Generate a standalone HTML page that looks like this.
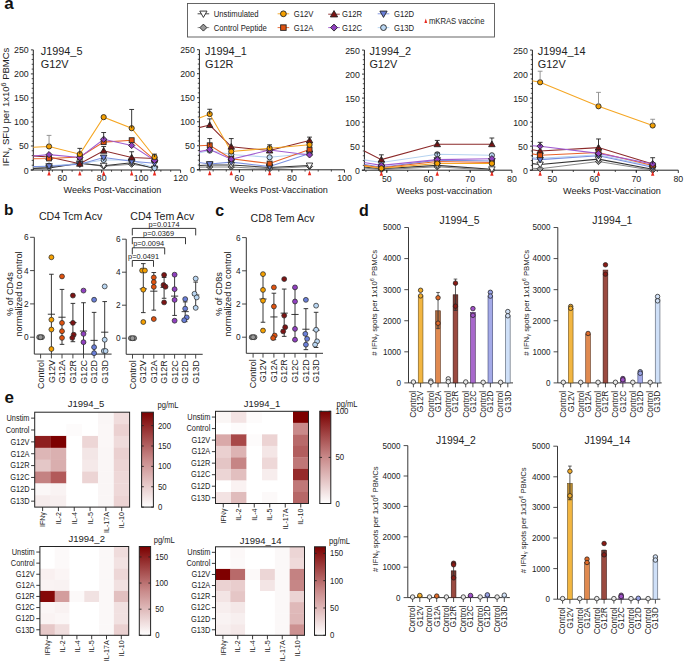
<!DOCTYPE html>
<html><head><meta charset="utf-8"><style>
html,body{margin:0;padding:0;background:#fff;width:685px;height:661px;overflow:hidden;}
body{position:relative;font-family:"Liberation Sans", sans-serif;}
svg text{font-family:"Liberation Sans", sans-serif;}
</style></head><body>
<svg width="685" height="661" viewBox="0 0 685 661" style="position:absolute;left:0;top:0;font-family:&quot;Liberation Sans&quot;, sans-serif">
<rect width="685" height="661" fill="#fff"/>
<text x="4.30" y="9.20" font-size="17" text-anchor="start" font-weight="bold" fill="#111">a</text>
<text x="4.00" y="215.40" font-size="15.5" text-anchor="start" font-weight="bold" fill="#111">b</text>
<text x="215.30" y="215.60" font-size="16" text-anchor="start" font-weight="bold" fill="#111">c</text>
<text x="359.00" y="216.00" font-size="16" text-anchor="start" font-weight="bold" fill="#111">d</text>
<text x="4.60" y="403.20" font-size="17" text-anchor="start" font-weight="bold" fill="#111">e</text>
<rect x="187.5" y="3.5" width="307" height="33.5" fill="#fff" stroke="#555" stroke-width="0.9"/>
<line x1="197.60" y1="13.80" x2="209.20" y2="13.80" stroke="#333333" stroke-width="0.9"/>
<polygon points="203.40,17.43 207.03,11.08 199.78,11.08" fill="#ffffff" stroke="#222" stroke-width="0.9"/>
<text x="0" y="0" font-size="7.7" text-anchor="start" font-weight="normal" fill="#222" transform="translate(213.80 16.70) scale(1.0 1.1)">Unstimulated</text>
<line x1="197.60" y1="27.60" x2="209.20" y2="27.60" stroke="#8a8a8a" stroke-width="0.9"/>
<polygon points="203.40,24.12 206.88,27.60 203.40,31.08 199.92,27.60" fill="#9a9a9a" stroke="#222" stroke-width="0.9"/>
<text x="0" y="0" font-size="7.7" text-anchor="start" font-weight="normal" fill="#222" transform="translate(213.80 30.50) scale(1.0 1.1)">Control Peptide</text>
<line x1="277.60" y1="13.80" x2="289.20" y2="13.80" stroke="#f5a623" stroke-width="0.9"/>
<circle cx="283.40" cy="13.80" r="2.9" fill="#f5a000" stroke="#222" stroke-width="0.9"/>
<text x="0" y="0" font-size="7.7" text-anchor="start" font-weight="normal" fill="#222" transform="translate(293.80 16.70) scale(1.0 1.1)">G12V</text>
<line x1="277.60" y1="27.60" x2="289.20" y2="27.60" stroke="#e8632a" stroke-width="0.9"/>
<rect x="280.64" y="24.85" width="5.51" height="5.51" fill="#e0520f" stroke="#222" stroke-width="0.9"/>
<text x="0" y="0" font-size="7.7" text-anchor="start" font-weight="normal" fill="#222" transform="translate(293.80 30.50) scale(1.0 1.1)">G12A</text>
<line x1="328.20" y1="14.20" x2="339.80" y2="14.20" stroke="#8c2a2a" stroke-width="0.9"/>
<polygon points="334.00,10.57 337.62,16.92 330.38,16.92" fill="#7d1414" stroke="#222" stroke-width="0.9"/>
<text x="0" y="0" font-size="7.7" text-anchor="start" font-weight="normal" fill="#222" transform="translate(342.00 17.10) scale(1.0 1.1)">G12R</text>
<line x1="328.20" y1="27.60" x2="339.80" y2="27.60" stroke="#a05cd0" stroke-width="0.9"/>
<polygon points="334.00,24.12 337.48,27.60 334.00,31.08 330.52,27.60" fill="#9040c0" stroke="#222" stroke-width="0.9"/>
<text x="0" y="0" font-size="7.7" text-anchor="start" font-weight="normal" fill="#222" transform="translate(342.00 30.50) scale(1.0 1.1)">G12C</text>
<line x1="377.70" y1="13.80" x2="389.30" y2="13.80" stroke="#7a90e0" stroke-width="0.9"/>
<polygon points="383.50,17.43 387.12,11.08 379.88,11.08" fill="#6a7fd8" stroke="#222" stroke-width="0.9"/>
<text x="0" y="0" font-size="7.7" text-anchor="start" font-weight="normal" fill="#222" transform="translate(393.90 16.70) scale(1.0 1.1)">G12D</text>
<line x1="377.70" y1="27.60" x2="389.30" y2="27.60" stroke="#b6d3f0" stroke-width="0.9"/>
<circle cx="383.50" cy="27.60" r="2.9" fill="#b9d6f2" stroke="#222" stroke-width="0.9"/>
<text x="0" y="0" font-size="7.7" text-anchor="start" font-weight="normal" fill="#222" transform="translate(393.90 30.50) scale(1.0 1.1)">G13D</text>
<polygon points="425.8,18.6 427.2,23 424.4,23" fill="#e8281e"/>
<text x="0" y="0" font-size="7.7" text-anchor="start" font-weight="normal" fill="#222" transform="translate(428.90 23.80) scale(1.0 1.1)">mKRAS vaccine</text>
<line x1="33.30" y1="170.00" x2="33.30" y2="49.88" stroke="#222" stroke-width="1"/>
<line x1="30.90" y1="170.00" x2="33.30" y2="170.00" stroke="#222" stroke-width="0.9"/>
<text x="0" y="0" font-size="8.8" text-anchor="end" font-weight="normal" fill="#222" transform="translate(28.70 173.50) scale(1.0 1.08)">0</text>
<line x1="31.70" y1="165.19" x2="33.30" y2="165.19" stroke="#222" stroke-width="0.8"/>
<line x1="31.70" y1="160.39" x2="33.30" y2="160.39" stroke="#222" stroke-width="0.8"/>
<line x1="31.70" y1="155.59" x2="33.30" y2="155.59" stroke="#222" stroke-width="0.8"/>
<line x1="31.70" y1="150.78" x2="33.30" y2="150.78" stroke="#222" stroke-width="0.8"/>
<line x1="30.90" y1="145.97" x2="33.30" y2="145.97" stroke="#222" stroke-width="0.9"/>
<text x="0" y="0" font-size="8.8" text-anchor="end" font-weight="normal" fill="#222" transform="translate(28.70 149.47) scale(1.0 1.08)">50</text>
<line x1="31.70" y1="141.17" x2="33.30" y2="141.17" stroke="#222" stroke-width="0.8"/>
<line x1="31.70" y1="136.37" x2="33.30" y2="136.37" stroke="#222" stroke-width="0.8"/>
<line x1="31.70" y1="131.56" x2="33.30" y2="131.56" stroke="#222" stroke-width="0.8"/>
<line x1="31.70" y1="126.75" x2="33.30" y2="126.75" stroke="#222" stroke-width="0.8"/>
<line x1="30.90" y1="121.95" x2="33.30" y2="121.95" stroke="#222" stroke-width="0.9"/>
<text x="0" y="0" font-size="8.8" text-anchor="end" font-weight="normal" fill="#222" transform="translate(28.70 125.45) scale(1.0 1.08)">100</text>
<line x1="31.70" y1="117.15" x2="33.30" y2="117.15" stroke="#222" stroke-width="0.8"/>
<line x1="31.70" y1="112.34" x2="33.30" y2="112.34" stroke="#222" stroke-width="0.8"/>
<line x1="31.70" y1="107.53" x2="33.30" y2="107.53" stroke="#222" stroke-width="0.8"/>
<line x1="31.70" y1="102.73" x2="33.30" y2="102.73" stroke="#222" stroke-width="0.8"/>
<line x1="30.90" y1="97.92" x2="33.30" y2="97.92" stroke="#222" stroke-width="0.9"/>
<text x="0" y="0" font-size="8.8" text-anchor="end" font-weight="normal" fill="#222" transform="translate(28.70 101.42) scale(1.0 1.08)">150</text>
<line x1="31.70" y1="93.12" x2="33.30" y2="93.12" stroke="#222" stroke-width="0.8"/>
<line x1="31.70" y1="88.31" x2="33.30" y2="88.31" stroke="#222" stroke-width="0.8"/>
<line x1="31.70" y1="83.51" x2="33.30" y2="83.51" stroke="#222" stroke-width="0.8"/>
<line x1="31.70" y1="78.70" x2="33.30" y2="78.70" stroke="#222" stroke-width="0.8"/>
<line x1="30.90" y1="73.90" x2="33.30" y2="73.90" stroke="#222" stroke-width="0.9"/>
<text x="0" y="0" font-size="8.8" text-anchor="end" font-weight="normal" fill="#222" transform="translate(28.70 77.40) scale(1.0 1.08)">200</text>
<line x1="31.70" y1="69.09" x2="33.30" y2="69.09" stroke="#222" stroke-width="0.8"/>
<line x1="31.70" y1="64.29" x2="33.30" y2="64.29" stroke="#222" stroke-width="0.8"/>
<line x1="31.70" y1="59.48" x2="33.30" y2="59.48" stroke="#222" stroke-width="0.8"/>
<line x1="31.70" y1="54.68" x2="33.30" y2="54.68" stroke="#222" stroke-width="0.8"/>
<line x1="30.90" y1="49.88" x2="33.30" y2="49.88" stroke="#222" stroke-width="0.9"/>
<text x="0" y="0" font-size="8.8" text-anchor="end" font-weight="normal" fill="#222" transform="translate(28.70 53.38) scale(1.0 1.08)">250</text>
<line x1="30.70" y1="170.00" x2="180.58" y2="170.00" stroke="#222" stroke-width="1"/>
<line x1="62.26" y1="170.00" x2="62.26" y2="172.80" stroke="#222" stroke-width="0.9"/>
<text x="0" y="0" font-size="8.8" text-anchor="middle" font-weight="normal" fill="#222" transform="translate(62.26 181.40) scale(1.0 1.08)">60</text>
<line x1="101.70" y1="170.00" x2="101.70" y2="172.80" stroke="#222" stroke-width="0.9"/>
<text x="0" y="0" font-size="8.8" text-anchor="middle" font-weight="normal" fill="#222" transform="translate(101.70 181.40) scale(1.0 1.08)">80</text>
<line x1="141.14" y1="170.00" x2="141.14" y2="172.80" stroke="#222" stroke-width="0.9"/>
<text x="0" y="0" font-size="8.8" text-anchor="middle" font-weight="normal" fill="#222" transform="translate(141.14 181.40) scale(1.0 1.08)">100</text>
<line x1="180.58" y1="170.00" x2="180.58" y2="172.80" stroke="#222" stroke-width="0.9"/>
<text x="0" y="0" font-size="8.8" text-anchor="middle" font-weight="normal" fill="#222" transform="translate(180.58 181.40) scale(1.0 1.08)">120</text>
<line x1="42.54" y1="170.00" x2="42.54" y2="171.80" stroke="#222" stroke-width="0.8"/>
<line x1="52.40" y1="170.00" x2="52.40" y2="171.80" stroke="#222" stroke-width="0.8"/>
<line x1="62.26" y1="170.00" x2="62.26" y2="171.80" stroke="#222" stroke-width="0.8"/>
<line x1="72.12" y1="170.00" x2="72.12" y2="171.80" stroke="#222" stroke-width="0.8"/>
<line x1="81.98" y1="170.00" x2="81.98" y2="171.80" stroke="#222" stroke-width="0.8"/>
<line x1="91.84" y1="170.00" x2="91.84" y2="171.80" stroke="#222" stroke-width="0.8"/>
<line x1="101.70" y1="170.00" x2="101.70" y2="171.80" stroke="#222" stroke-width="0.8"/>
<line x1="111.56" y1="170.00" x2="111.56" y2="171.80" stroke="#222" stroke-width="0.8"/>
<line x1="121.42" y1="170.00" x2="121.42" y2="171.80" stroke="#222" stroke-width="0.8"/>
<line x1="131.28" y1="170.00" x2="131.28" y2="171.80" stroke="#222" stroke-width="0.8"/>
<line x1="141.14" y1="170.00" x2="141.14" y2="171.80" stroke="#222" stroke-width="0.8"/>
<line x1="151.00" y1="170.00" x2="151.00" y2="171.80" stroke="#222" stroke-width="0.8"/>
<line x1="160.86" y1="170.00" x2="160.86" y2="171.80" stroke="#222" stroke-width="0.8"/>
<line x1="170.72" y1="170.00" x2="170.72" y2="171.80" stroke="#222" stroke-width="0.8"/>
<text x="0" y="0" font-size="9.1" text-anchor="middle" font-weight="normal" fill="#222" transform="translate(112.40 193.30) scale(1.0 1.05)">Weeks Post-Vaccination</text>
<text x="40.70" y="54.50" font-size="10.9" text-anchor="start" font-weight="normal" fill="#222">J1994_5</text>
<text x="40.70" y="68.30" font-size="10.9" text-anchor="start" font-weight="normal" fill="#222">G12V</text>
<clipPath id="clip33"><rect x="33.3" y="40" width="155.27999999999997" height="130.0"/></clipPath>
<g clip-path="url(#clip33)">
<polyline points="22.82,169.04 49.05,167.12 79.81,163.27 103.67,166.16 131.67,164.23 154.55,167.60" fill="none" stroke="#8a8a8a" stroke-width="1.05"/>
<polyline points="22.82,168.56 49.05,168.08 79.81,163.27 103.67,165.68 131.67,162.79 154.55,168.56" fill="none" stroke="#333333" stroke-width="1.05"/>
<polyline points="22.82,167.60 49.05,165.68 79.81,163.75 103.67,159.91 131.67,159.91 154.55,168.08" fill="none" stroke="#b6d3f0" stroke-width="1.05"/>
<polyline points="22.82,166.64 49.05,166.16 79.81,164.23 103.67,157.51 131.67,161.35 154.55,163.27" fill="none" stroke="#7a90e0" stroke-width="1.05"/>
<polyline points="22.82,155.10 49.05,157.03 79.81,163.75 103.67,150.78 131.67,157.51 154.55,158.47" fill="none" stroke="#8c2a2a" stroke-width="1.05"/>
<polyline points="22.82,158.95 49.05,158.47 79.81,157.03 103.67,142.13 131.67,140.21 154.55,159.91" fill="none" stroke="#e8632a" stroke-width="1.05"/>
<polyline points="22.82,157.03 49.05,154.62 79.81,157.51 103.67,139.25 131.67,145.49 154.55,160.39" fill="none" stroke="#a05cd0" stroke-width="1.05"/>
<polyline points="22.82,147.90 49.05,146.46 79.81,154.14 103.67,117.15 131.67,128.20 154.55,157.03" fill="none" stroke="#f5a623" stroke-width="1.05"/>
</g>
<polygon points="49.05,164.00 52.17,167.12 49.05,170.24 45.93,167.12" fill="#9a9a9a" stroke="#222" stroke-width="0.85"/>
<polygon points="79.81,160.15 82.93,163.27 79.81,166.39 76.69,163.27" fill="#9a9a9a" stroke="#222" stroke-width="0.85"/>
<polygon points="103.67,163.04 106.79,166.16 103.67,169.28 100.55,166.16" fill="#9a9a9a" stroke="#222" stroke-width="0.85"/>
<polygon points="131.67,161.11 134.79,164.23 131.67,167.35 128.55,164.23" fill="#9a9a9a" stroke="#222" stroke-width="0.85"/>
<polygon points="154.55,164.48 157.67,167.60 154.55,170.72 151.43,167.60" fill="#9a9a9a" stroke="#222" stroke-width="0.85"/>
<polygon points="49.05,171.33 52.30,165.64 45.80,165.64" fill="#ffffff" stroke="#222" stroke-width="0.85"/>
<polygon points="79.81,166.52 83.06,160.84 76.56,160.84" fill="#ffffff" stroke="#222" stroke-width="0.85"/>
<polygon points="103.67,168.93 106.92,163.24 100.42,163.24" fill="#ffffff" stroke="#222" stroke-width="0.85"/>
<polygon points="131.67,166.04 134.92,160.35 128.42,160.35" fill="#ffffff" stroke="#222" stroke-width="0.85"/>
<polygon points="154.55,171.81 157.80,166.12 151.30,166.12" fill="#ffffff" stroke="#222" stroke-width="0.85"/>
<circle cx="49.05" cy="165.68" r="2.6" fill="#b9d6f2" stroke="#222" stroke-width="0.85"/>
<circle cx="79.81" cy="163.75" r="2.6" fill="#b9d6f2" stroke="#222" stroke-width="0.85"/>
<circle cx="103.67" cy="159.91" r="2.6" fill="#b9d6f2" stroke="#222" stroke-width="0.85"/>
<circle cx="131.67" cy="159.91" r="2.6" fill="#b9d6f2" stroke="#222" stroke-width="0.85"/>
<circle cx="154.55" cy="168.08" r="2.6" fill="#b9d6f2" stroke="#222" stroke-width="0.85"/>
<polygon points="49.05,169.41 52.30,163.72 45.80,163.72" fill="#6a7fd8" stroke="#222" stroke-width="0.85"/>
<polygon points="79.81,167.48 83.06,161.80 76.56,161.80" fill="#6a7fd8" stroke="#222" stroke-width="0.85"/>
<polygon points="103.67,160.76 106.92,155.07 100.42,155.07" fill="#6a7fd8" stroke="#222" stroke-width="0.85"/>
<polygon points="131.67,164.60 134.92,158.91 128.42,158.91" fill="#6a7fd8" stroke="#222" stroke-width="0.85"/>
<polygon points="154.55,166.52 157.80,160.84 151.30,160.84" fill="#6a7fd8" stroke="#222" stroke-width="0.85"/>
<polygon points="49.05,153.78 52.30,159.46 45.80,159.46" fill="#7d1414" stroke="#222" stroke-width="0.85"/>
<polygon points="79.81,160.50 83.06,166.19 76.56,166.19" fill="#7d1414" stroke="#222" stroke-width="0.85"/>
<polygon points="103.67,147.53 106.92,153.22 100.42,153.22" fill="#7d1414" stroke="#222" stroke-width="0.85"/>
<polygon points="131.67,154.26 134.92,159.94 128.42,159.94" fill="#7d1414" stroke="#222" stroke-width="0.85"/>
<polygon points="154.55,155.22 157.80,160.91 151.30,160.91" fill="#7d1414" stroke="#222" stroke-width="0.85"/>
<rect x="46.58" y="156.00" width="4.94" height="4.94" fill="#e0520f" stroke="#222" stroke-width="0.85"/>
<rect x="77.34" y="154.56" width="4.94" height="4.94" fill="#e0520f" stroke="#222" stroke-width="0.85"/>
<rect x="101.20" y="139.66" width="4.94" height="4.94" fill="#e0520f" stroke="#222" stroke-width="0.85"/>
<rect x="129.20" y="137.74" width="4.94" height="4.94" fill="#e0520f" stroke="#222" stroke-width="0.85"/>
<rect x="152.08" y="157.44" width="4.94" height="4.94" fill="#e0520f" stroke="#222" stroke-width="0.85"/>
<polygon points="49.05,151.50 52.17,154.62 49.05,157.74 45.93,154.62" fill="#9040c0" stroke="#222" stroke-width="0.85"/>
<polygon points="79.81,154.39 82.93,157.51 79.81,160.63 76.69,157.51" fill="#9040c0" stroke="#222" stroke-width="0.85"/>
<polygon points="103.67,136.13 106.79,139.25 103.67,142.37 100.55,139.25" fill="#9040c0" stroke="#222" stroke-width="0.85"/>
<polygon points="131.67,142.37 134.79,145.49 131.67,148.61 128.55,145.49" fill="#9040c0" stroke="#222" stroke-width="0.85"/>
<polygon points="154.55,157.27 157.67,160.39 154.55,163.51 151.43,160.39" fill="#9040c0" stroke="#222" stroke-width="0.85"/>
<circle cx="49.05" cy="146.46" r="2.6" fill="#f5a000" stroke="#222" stroke-width="0.85"/>
<circle cx="79.81" cy="154.14" r="2.6" fill="#f5a000" stroke="#222" stroke-width="0.85"/>
<circle cx="103.67" cy="117.15" r="2.6" fill="#f5a000" stroke="#222" stroke-width="0.85"/>
<circle cx="131.67" cy="128.20" r="2.6" fill="#f5a000" stroke="#222" stroke-width="0.85"/>
<circle cx="154.55" cy="157.03" r="2.6" fill="#f5a000" stroke="#222" stroke-width="0.85"/>
<line x1="49.05" y1="135.40" x2="49.05" y2="145.25" stroke="#8a8a8a" stroke-width="0.9"/>
<line x1="46.65" y1="135.40" x2="51.45" y2="135.40" stroke="#8a8a8a" stroke-width="0.9"/>
<line x1="79.81" y1="148.38" x2="79.81" y2="154.14" stroke="#222" stroke-width="0.9"/>
<line x1="77.41" y1="148.38" x2="82.21" y2="148.38" stroke="#222" stroke-width="0.9"/>
<line x1="103.67" y1="132.52" x2="103.67" y2="139.25" stroke="#222" stroke-width="0.9"/>
<line x1="101.27" y1="132.52" x2="106.07" y2="132.52" stroke="#222" stroke-width="0.9"/>
<line x1="103.67" y1="146.46" x2="103.67" y2="150.78" stroke="#222" stroke-width="0.9"/>
<line x1="101.27" y1="146.46" x2="106.07" y2="146.46" stroke="#222" stroke-width="0.9"/>
<line x1="131.67" y1="109.46" x2="131.67" y2="128.20" stroke="#222" stroke-width="0.9"/>
<line x1="129.27" y1="109.46" x2="134.07" y2="109.46" stroke="#222" stroke-width="0.9"/>
<line x1="131.67" y1="151.74" x2="131.67" y2="157.51" stroke="#222" stroke-width="0.9"/>
<line x1="129.27" y1="151.74" x2="134.07" y2="151.74" stroke="#222" stroke-width="0.9"/>
<line x1="154.55" y1="154.14" x2="154.55" y2="157.03" stroke="#222" stroke-width="0.9"/>
<line x1="152.15" y1="154.14" x2="156.95" y2="154.14" stroke="#222" stroke-width="0.9"/>
<polygon points="49.05,170.70 50.75,175.50 47.35,175.50" fill="#e8281e"/>
<polygon points="79.81,170.70 81.51,175.50 78.11,175.50" fill="#e8281e"/>
<polygon points="103.67,170.70 105.37,175.50 101.97,175.50" fill="#e8281e"/>
<polygon points="131.67,170.70 133.37,175.50 129.97,175.50" fill="#e8281e"/>
<polygon points="154.55,170.70 156.25,175.50 152.85,175.50" fill="#e8281e"/>
<line x1="199.40" y1="169.80" x2="199.40" y2="49.68" stroke="#222" stroke-width="1"/>
<line x1="197.00" y1="169.80" x2="199.40" y2="169.80" stroke="#222" stroke-width="0.9"/>
<text x="0" y="0" font-size="8.8" text-anchor="end" font-weight="normal" fill="#222" transform="translate(194.80 173.30) scale(1.0 1.08)">0</text>
<line x1="197.80" y1="165.00" x2="199.40" y2="165.00" stroke="#222" stroke-width="0.8"/>
<line x1="197.80" y1="160.19" x2="199.40" y2="160.19" stroke="#222" stroke-width="0.8"/>
<line x1="197.80" y1="155.39" x2="199.40" y2="155.39" stroke="#222" stroke-width="0.8"/>
<line x1="197.80" y1="150.58" x2="199.40" y2="150.58" stroke="#222" stroke-width="0.8"/>
<line x1="197.00" y1="145.78" x2="199.40" y2="145.78" stroke="#222" stroke-width="0.9"/>
<text x="0" y="0" font-size="8.8" text-anchor="end" font-weight="normal" fill="#222" transform="translate(194.80 149.28) scale(1.0 1.08)">50</text>
<line x1="197.80" y1="140.97" x2="199.40" y2="140.97" stroke="#222" stroke-width="0.8"/>
<line x1="197.80" y1="136.17" x2="199.40" y2="136.17" stroke="#222" stroke-width="0.8"/>
<line x1="197.80" y1="131.36" x2="199.40" y2="131.36" stroke="#222" stroke-width="0.8"/>
<line x1="197.80" y1="126.56" x2="199.40" y2="126.56" stroke="#222" stroke-width="0.8"/>
<line x1="197.00" y1="121.75" x2="199.40" y2="121.75" stroke="#222" stroke-width="0.9"/>
<text x="0" y="0" font-size="8.8" text-anchor="end" font-weight="normal" fill="#222" transform="translate(194.80 125.25) scale(1.0 1.08)">100</text>
<line x1="197.80" y1="116.95" x2="199.40" y2="116.95" stroke="#222" stroke-width="0.8"/>
<line x1="197.80" y1="112.14" x2="199.40" y2="112.14" stroke="#222" stroke-width="0.8"/>
<line x1="197.80" y1="107.34" x2="199.40" y2="107.34" stroke="#222" stroke-width="0.8"/>
<line x1="197.80" y1="102.53" x2="199.40" y2="102.53" stroke="#222" stroke-width="0.8"/>
<line x1="197.00" y1="97.73" x2="199.40" y2="97.73" stroke="#222" stroke-width="0.9"/>
<text x="0" y="0" font-size="8.8" text-anchor="end" font-weight="normal" fill="#222" transform="translate(194.80 101.23) scale(1.0 1.08)">150</text>
<line x1="197.80" y1="92.92" x2="199.40" y2="92.92" stroke="#222" stroke-width="0.8"/>
<line x1="197.80" y1="88.12" x2="199.40" y2="88.12" stroke="#222" stroke-width="0.8"/>
<line x1="197.80" y1="83.31" x2="199.40" y2="83.31" stroke="#222" stroke-width="0.8"/>
<line x1="197.80" y1="78.51" x2="199.40" y2="78.51" stroke="#222" stroke-width="0.8"/>
<line x1="197.00" y1="73.70" x2="199.40" y2="73.70" stroke="#222" stroke-width="0.9"/>
<text x="0" y="0" font-size="8.8" text-anchor="end" font-weight="normal" fill="#222" transform="translate(194.80 77.20) scale(1.0 1.08)">200</text>
<line x1="197.80" y1="68.90" x2="199.40" y2="68.90" stroke="#222" stroke-width="0.8"/>
<line x1="197.80" y1="64.09" x2="199.40" y2="64.09" stroke="#222" stroke-width="0.8"/>
<line x1="197.80" y1="59.29" x2="199.40" y2="59.29" stroke="#222" stroke-width="0.8"/>
<line x1="197.80" y1="54.48" x2="199.40" y2="54.48" stroke="#222" stroke-width="0.8"/>
<line x1="197.00" y1="49.68" x2="199.40" y2="49.68" stroke="#222" stroke-width="0.9"/>
<text x="0" y="0" font-size="8.8" text-anchor="end" font-weight="normal" fill="#222" transform="translate(194.80 53.18) scale(1.0 1.08)">250</text>
<line x1="196.80" y1="169.80" x2="344.48" y2="169.80" stroke="#222" stroke-width="1"/>
<line x1="239.40" y1="169.80" x2="239.40" y2="172.60" stroke="#222" stroke-width="0.9"/>
<text x="0" y="0" font-size="8.8" text-anchor="middle" font-weight="normal" fill="#222" transform="translate(239.40 181.20) scale(1.0 1.08)">60</text>
<line x1="291.94" y1="169.80" x2="291.94" y2="172.60" stroke="#222" stroke-width="0.9"/>
<text x="0" y="0" font-size="8.8" text-anchor="middle" font-weight="normal" fill="#222" transform="translate(291.94 181.20) scale(1.0 1.08)">80</text>
<line x1="344.48" y1="169.80" x2="344.48" y2="172.60" stroke="#222" stroke-width="0.9"/>
<text x="0" y="0" font-size="8.8" text-anchor="middle" font-weight="normal" fill="#222" transform="translate(344.48 181.20) scale(1.0 1.08)">100</text>
<line x1="200.00" y1="169.80" x2="200.00" y2="171.60" stroke="#222" stroke-width="0.8"/>
<line x1="213.13" y1="169.80" x2="213.13" y2="171.60" stroke="#222" stroke-width="0.8"/>
<line x1="226.27" y1="169.80" x2="226.27" y2="171.60" stroke="#222" stroke-width="0.8"/>
<line x1="239.40" y1="169.80" x2="239.40" y2="171.60" stroke="#222" stroke-width="0.8"/>
<line x1="252.53" y1="169.80" x2="252.53" y2="171.60" stroke="#222" stroke-width="0.8"/>
<line x1="265.67" y1="169.80" x2="265.67" y2="171.60" stroke="#222" stroke-width="0.8"/>
<line x1="278.81" y1="169.80" x2="278.81" y2="171.60" stroke="#222" stroke-width="0.8"/>
<line x1="291.94" y1="169.80" x2="291.94" y2="171.60" stroke="#222" stroke-width="0.8"/>
<line x1="305.07" y1="169.80" x2="305.07" y2="171.60" stroke="#222" stroke-width="0.8"/>
<line x1="318.21" y1="169.80" x2="318.21" y2="171.60" stroke="#222" stroke-width="0.8"/>
<line x1="331.35" y1="169.80" x2="331.35" y2="171.60" stroke="#222" stroke-width="0.8"/>
<text x="0" y="0" font-size="9.1" text-anchor="middle" font-weight="normal" fill="#222" transform="translate(279.00 193.10) scale(1.0 1.05)">Weeks Post-Vaccination</text>
<text x="205.00" y="54.50" font-size="10.9" text-anchor="start" font-weight="normal" fill="#222">J1994_1</text>
<text x="205.00" y="68.30" font-size="10.9" text-anchor="start" font-weight="normal" fill="#222">G12R</text>
<clipPath id="clip199"><rect x="199.4" y="40" width="153.08" height="129.8"/></clipPath>
<g clip-path="url(#clip199)">
<polyline points="186.86,167.40 209.71,166.92 231.26,166.92 269.61,168.84 309.54,166.44" fill="none" stroke="#8a8a8a" stroke-width="1.05"/>
<polyline points="186.86,165.96 209.71,165.00 231.26,165.00 269.61,167.40 309.54,165.48" fill="none" stroke="#333333" stroke-width="1.05"/>
<polyline points="186.86,155.87 209.71,150.58 231.26,154.42 269.61,157.31 309.54,153.46" fill="none" stroke="#b6d3f0" stroke-width="1.05"/>
<polyline points="186.86,160.67 209.71,164.03 231.26,162.11 269.61,166.44 309.54,153.46" fill="none" stroke="#7a90e0" stroke-width="1.05"/>
<polyline points="186.86,130.40 209.71,125.11 231.26,146.74 269.61,150.58 309.54,140.49" fill="none" stroke="#8c2a2a" stroke-width="1.05"/>
<polyline points="186.86,146.26 209.71,145.29 231.26,158.75 269.61,163.55 309.54,149.62" fill="none" stroke="#e8632a" stroke-width="1.05"/>
<polyline points="186.86,153.94 209.71,149.62 231.26,159.23 269.61,150.10 309.54,154.90" fill="none" stroke="#a05cd0" stroke-width="1.05"/>
<polyline points="186.86,122.71 209.71,114.06 231.26,151.54 269.61,148.18 309.54,144.81" fill="none" stroke="#f5a623" stroke-width="1.05"/>
</g>
<polygon points="209.71,163.80 212.83,166.92 209.71,170.04 206.59,166.92" fill="#9a9a9a" stroke="#222" stroke-width="0.85"/>
<polygon points="231.26,163.80 234.38,166.92 231.26,170.04 228.14,166.92" fill="#9a9a9a" stroke="#222" stroke-width="0.85"/>
<polygon points="269.61,165.72 272.73,168.84 269.61,171.96 266.49,168.84" fill="#9a9a9a" stroke="#222" stroke-width="0.85"/>
<polygon points="309.54,163.32 312.66,166.44 309.54,169.56 306.42,166.44" fill="#9a9a9a" stroke="#222" stroke-width="0.85"/>
<polygon points="209.71,168.25 212.96,162.56 206.46,162.56" fill="#ffffff" stroke="#222" stroke-width="0.85"/>
<polygon points="231.26,168.25 234.51,162.56 228.01,162.56" fill="#ffffff" stroke="#222" stroke-width="0.85"/>
<polygon points="269.61,170.65 272.86,164.96 266.36,164.96" fill="#ffffff" stroke="#222" stroke-width="0.85"/>
<polygon points="309.54,168.73 312.79,163.04 306.29,163.04" fill="#ffffff" stroke="#222" stroke-width="0.85"/>
<circle cx="209.71" cy="150.58" r="2.6" fill="#b9d6f2" stroke="#222" stroke-width="0.85"/>
<circle cx="231.26" cy="154.42" r="2.6" fill="#b9d6f2" stroke="#222" stroke-width="0.85"/>
<circle cx="269.61" cy="157.31" r="2.6" fill="#b9d6f2" stroke="#222" stroke-width="0.85"/>
<circle cx="309.54" cy="153.46" r="2.6" fill="#b9d6f2" stroke="#222" stroke-width="0.85"/>
<polygon points="209.71,167.28 212.96,161.60 206.46,161.60" fill="#6a7fd8" stroke="#222" stroke-width="0.85"/>
<polygon points="231.26,165.36 234.51,159.67 228.01,159.67" fill="#6a7fd8" stroke="#222" stroke-width="0.85"/>
<polygon points="269.61,169.69 272.86,164.00 266.36,164.00" fill="#6a7fd8" stroke="#222" stroke-width="0.85"/>
<polygon points="309.54,156.71 312.79,151.03 306.29,151.03" fill="#6a7fd8" stroke="#222" stroke-width="0.85"/>
<polygon points="209.71,121.86 212.96,127.55 206.46,127.55" fill="#7d1414" stroke="#222" stroke-width="0.85"/>
<polygon points="231.26,143.49 234.51,149.17 228.01,149.17" fill="#7d1414" stroke="#222" stroke-width="0.85"/>
<polygon points="269.61,147.33 272.86,153.02 266.36,153.02" fill="#7d1414" stroke="#222" stroke-width="0.85"/>
<polygon points="309.54,137.24 312.79,142.93 306.29,142.93" fill="#7d1414" stroke="#222" stroke-width="0.85"/>
<rect x="207.24" y="142.82" width="4.94" height="4.94" fill="#e0520f" stroke="#222" stroke-width="0.85"/>
<rect x="228.79" y="156.28" width="4.94" height="4.94" fill="#e0520f" stroke="#222" stroke-width="0.85"/>
<rect x="267.14" y="161.08" width="4.94" height="4.94" fill="#e0520f" stroke="#222" stroke-width="0.85"/>
<rect x="307.07" y="147.15" width="4.94" height="4.94" fill="#e0520f" stroke="#222" stroke-width="0.85"/>
<polygon points="209.71,146.50 212.83,149.62 209.71,152.74 206.59,149.62" fill="#9040c0" stroke="#222" stroke-width="0.85"/>
<polygon points="231.26,156.11 234.38,159.23 231.26,162.35 228.14,159.23" fill="#9040c0" stroke="#222" stroke-width="0.85"/>
<polygon points="269.61,146.98 272.73,150.10 269.61,153.22 266.49,150.10" fill="#9040c0" stroke="#222" stroke-width="0.85"/>
<polygon points="309.54,151.78 312.66,154.90 309.54,158.02 306.42,154.90" fill="#9040c0" stroke="#222" stroke-width="0.85"/>
<circle cx="209.71" cy="114.06" r="2.6" fill="#f5a000" stroke="#222" stroke-width="0.85"/>
<circle cx="231.26" cy="151.54" r="2.6" fill="#f5a000" stroke="#222" stroke-width="0.85"/>
<circle cx="269.61" cy="148.18" r="2.6" fill="#f5a000" stroke="#222" stroke-width="0.85"/>
<circle cx="309.54" cy="144.81" r="2.6" fill="#f5a000" stroke="#222" stroke-width="0.85"/>
<line x1="209.71" y1="109.26" x2="209.71" y2="114.06" stroke="#222" stroke-width="0.9"/>
<line x1="207.31" y1="109.26" x2="212.11" y2="109.26" stroke="#222" stroke-width="0.9"/>
<line x1="209.71" y1="118.87" x2="209.71" y2="125.11" stroke="#222" stroke-width="0.9"/>
<line x1="207.31" y1="118.87" x2="212.11" y2="118.87" stroke="#222" stroke-width="0.9"/>
<line x1="209.71" y1="138.57" x2="209.71" y2="145.29" stroke="#222" stroke-width="0.9"/>
<line x1="207.31" y1="138.57" x2="212.11" y2="138.57" stroke="#222" stroke-width="0.9"/>
<line x1="231.26" y1="138.57" x2="231.26" y2="146.74" stroke="#222" stroke-width="0.9"/>
<line x1="228.86" y1="138.57" x2="233.66" y2="138.57" stroke="#222" stroke-width="0.9"/>
<line x1="269.61" y1="144.81" x2="269.61" y2="148.18" stroke="#222" stroke-width="0.9"/>
<line x1="267.21" y1="144.81" x2="272.01" y2="144.81" stroke="#222" stroke-width="0.9"/>
<line x1="309.54" y1="137.13" x2="309.54" y2="140.49" stroke="#222" stroke-width="0.9"/>
<line x1="307.14" y1="137.13" x2="311.94" y2="137.13" stroke="#222" stroke-width="0.9"/>
<polygon points="209.71,170.50 211.41,175.30 208.01,175.30" fill="#e8281e"/>
<polygon points="231.26,170.50 232.96,175.30 229.56,175.30" fill="#e8281e"/>
<polygon points="269.61,170.50 271.31,175.30 267.91,175.30" fill="#e8281e"/>
<polygon points="309.54,170.50 311.24,175.30 307.84,175.30" fill="#e8281e"/>
<line x1="364.40" y1="170.20" x2="364.40" y2="50.07" stroke="#222" stroke-width="1"/>
<line x1="362.00" y1="170.20" x2="364.40" y2="170.20" stroke="#222" stroke-width="0.9"/>
<text x="0" y="0" font-size="8.8" text-anchor="end" font-weight="normal" fill="#222" transform="translate(359.80 173.70) scale(1.0 1.08)">0</text>
<line x1="362.80" y1="165.39" x2="364.40" y2="165.39" stroke="#222" stroke-width="0.8"/>
<line x1="362.80" y1="160.59" x2="364.40" y2="160.59" stroke="#222" stroke-width="0.8"/>
<line x1="362.80" y1="155.78" x2="364.40" y2="155.78" stroke="#222" stroke-width="0.8"/>
<line x1="362.80" y1="150.98" x2="364.40" y2="150.98" stroke="#222" stroke-width="0.8"/>
<line x1="362.00" y1="146.17" x2="364.40" y2="146.17" stroke="#222" stroke-width="0.9"/>
<text x="0" y="0" font-size="8.8" text-anchor="end" font-weight="normal" fill="#222" transform="translate(359.80 149.67) scale(1.0 1.08)">50</text>
<line x1="362.80" y1="141.37" x2="364.40" y2="141.37" stroke="#222" stroke-width="0.8"/>
<line x1="362.80" y1="136.56" x2="364.40" y2="136.56" stroke="#222" stroke-width="0.8"/>
<line x1="362.80" y1="131.76" x2="364.40" y2="131.76" stroke="#222" stroke-width="0.8"/>
<line x1="362.80" y1="126.95" x2="364.40" y2="126.95" stroke="#222" stroke-width="0.8"/>
<line x1="362.00" y1="122.15" x2="364.40" y2="122.15" stroke="#222" stroke-width="0.9"/>
<text x="0" y="0" font-size="8.8" text-anchor="end" font-weight="normal" fill="#222" transform="translate(359.80 125.65) scale(1.0 1.08)">100</text>
<line x1="362.80" y1="117.34" x2="364.40" y2="117.34" stroke="#222" stroke-width="0.8"/>
<line x1="362.80" y1="112.54" x2="364.40" y2="112.54" stroke="#222" stroke-width="0.8"/>
<line x1="362.80" y1="107.73" x2="364.40" y2="107.73" stroke="#222" stroke-width="0.8"/>
<line x1="362.80" y1="102.93" x2="364.40" y2="102.93" stroke="#222" stroke-width="0.8"/>
<line x1="362.00" y1="98.12" x2="364.40" y2="98.12" stroke="#222" stroke-width="0.9"/>
<text x="0" y="0" font-size="8.8" text-anchor="end" font-weight="normal" fill="#222" transform="translate(359.80 101.62) scale(1.0 1.08)">150</text>
<line x1="362.80" y1="93.32" x2="364.40" y2="93.32" stroke="#222" stroke-width="0.8"/>
<line x1="362.80" y1="88.51" x2="364.40" y2="88.51" stroke="#222" stroke-width="0.8"/>
<line x1="362.80" y1="83.71" x2="364.40" y2="83.71" stroke="#222" stroke-width="0.8"/>
<line x1="362.80" y1="78.90" x2="364.40" y2="78.90" stroke="#222" stroke-width="0.8"/>
<line x1="362.00" y1="74.10" x2="364.40" y2="74.10" stroke="#222" stroke-width="0.9"/>
<text x="0" y="0" font-size="8.8" text-anchor="end" font-weight="normal" fill="#222" transform="translate(359.80 77.60) scale(1.0 1.08)">200</text>
<line x1="362.80" y1="69.29" x2="364.40" y2="69.29" stroke="#222" stroke-width="0.8"/>
<line x1="362.80" y1="64.49" x2="364.40" y2="64.49" stroke="#222" stroke-width="0.8"/>
<line x1="362.80" y1="59.68" x2="364.40" y2="59.68" stroke="#222" stroke-width="0.8"/>
<line x1="362.80" y1="54.88" x2="364.40" y2="54.88" stroke="#222" stroke-width="0.8"/>
<line x1="362.00" y1="50.07" x2="364.40" y2="50.07" stroke="#222" stroke-width="0.9"/>
<text x="0" y="0" font-size="8.8" text-anchor="end" font-weight="normal" fill="#222" transform="translate(359.80 53.57) scale(1.0 1.08)">250</text>
<line x1="361.80" y1="170.20" x2="511.90" y2="170.20" stroke="#222" stroke-width="1"/>
<line x1="386.80" y1="170.20" x2="386.80" y2="173.00" stroke="#222" stroke-width="0.9"/>
<text x="0" y="0" font-size="8.8" text-anchor="middle" font-weight="normal" fill="#222" transform="translate(386.80 181.60) scale(1.0 1.08)">50</text>
<line x1="428.50" y1="170.20" x2="428.50" y2="173.00" stroke="#222" stroke-width="0.9"/>
<text x="0" y="0" font-size="8.8" text-anchor="middle" font-weight="normal" fill="#222" transform="translate(428.50 181.60) scale(1.0 1.08)">60</text>
<line x1="470.20" y1="170.20" x2="470.20" y2="173.00" stroke="#222" stroke-width="0.9"/>
<text x="0" y="0" font-size="8.8" text-anchor="middle" font-weight="normal" fill="#222" transform="translate(470.20 181.60) scale(1.0 1.08)">70</text>
<line x1="511.90" y1="170.20" x2="511.90" y2="173.00" stroke="#222" stroke-width="0.9"/>
<text x="0" y="0" font-size="8.8" text-anchor="middle" font-weight="normal" fill="#222" transform="translate(511.90 181.60) scale(1.0 1.08)">80</text>
<line x1="365.95" y1="170.20" x2="365.95" y2="172.00" stroke="#222" stroke-width="0.8"/>
<line x1="386.80" y1="170.20" x2="386.80" y2="172.00" stroke="#222" stroke-width="0.8"/>
<line x1="407.65" y1="170.20" x2="407.65" y2="172.00" stroke="#222" stroke-width="0.8"/>
<line x1="428.50" y1="170.20" x2="428.50" y2="172.00" stroke="#222" stroke-width="0.8"/>
<line x1="449.35" y1="170.20" x2="449.35" y2="172.00" stroke="#222" stroke-width="0.8"/>
<line x1="470.20" y1="170.20" x2="470.20" y2="172.00" stroke="#222" stroke-width="0.8"/>
<line x1="491.05" y1="170.20" x2="491.05" y2="172.00" stroke="#222" stroke-width="0.8"/>
<text x="0" y="0" font-size="9.1" text-anchor="middle" font-weight="normal" fill="#222" transform="translate(444.20 193.50) scale(1.0 1.05)">Weeks post-vaccination</text>
<text x="369.40" y="54.50" font-size="10.9" text-anchor="start" font-weight="normal" fill="#222">J1994_2</text>
<text x="369.40" y="68.30" font-size="10.9" text-anchor="start" font-weight="normal" fill="#222">G12V</text>
<clipPath id="clip364"><rect x="364.4" y="40" width="155.5" height="130.2"/></clipPath>
<g clip-path="url(#clip364)">
<polyline points="336.76,165.39 381.38,169.72 437.26,166.84 491.88,170.20" fill="none" stroke="#8a8a8a" stroke-width="1.05"/>
<polyline points="336.76,164.43 381.38,168.76 437.26,165.39 491.88,169.24" fill="none" stroke="#333333" stroke-width="1.05"/>
<polyline points="336.76,155.78 381.38,162.51 437.26,154.34 491.88,155.30" fill="none" stroke="#b6d3f0" stroke-width="1.05"/>
<polyline points="336.76,159.63 381.38,167.32 437.26,160.11 491.88,161.07" fill="none" stroke="#7a90e0" stroke-width="1.05"/>
<polyline points="345.10,141.37 381.38,159.63 437.26,144.25 491.88,144.25" fill="none" stroke="#8c2a2a" stroke-width="1.05"/>
<polyline points="336.76,161.55 381.38,167.80 437.26,161.55 491.88,162.51" fill="none" stroke="#e8632a" stroke-width="1.05"/>
<polyline points="336.76,158.19 381.38,165.39 437.26,159.63 491.88,158.67" fill="none" stroke="#a05cd0" stroke-width="1.05"/>
<polyline points="336.76,162.51 381.38,168.28 437.26,163.47 491.88,163.47" fill="none" stroke="#f5a623" stroke-width="1.05"/>
</g>
<polygon points="381.38,166.60 384.50,169.72 381.38,172.84 378.26,169.72" fill="#9a9a9a" stroke="#222" stroke-width="0.85"/>
<polygon points="437.26,163.72 440.38,166.84 437.26,169.96 434.14,166.84" fill="#9a9a9a" stroke="#222" stroke-width="0.85"/>
<polygon points="491.88,167.08 495.00,170.20 491.88,173.32 488.76,170.20" fill="#9a9a9a" stroke="#222" stroke-width="0.85"/>
<polygon points="381.38,172.01 384.63,166.32 378.13,166.32" fill="#ffffff" stroke="#222" stroke-width="0.85"/>
<polygon points="437.26,168.64 440.51,162.96 434.01,162.96" fill="#ffffff" stroke="#222" stroke-width="0.85"/>
<polygon points="491.88,172.49 495.13,166.80 488.63,166.80" fill="#ffffff" stroke="#222" stroke-width="0.85"/>
<circle cx="381.38" cy="162.51" r="2.6" fill="#b9d6f2" stroke="#222" stroke-width="0.85"/>
<circle cx="437.26" cy="154.34" r="2.6" fill="#b9d6f2" stroke="#222" stroke-width="0.85"/>
<circle cx="491.88" cy="155.30" r="2.6" fill="#b9d6f2" stroke="#222" stroke-width="0.85"/>
<polygon points="381.38,170.57 384.63,164.88 378.13,164.88" fill="#6a7fd8" stroke="#222" stroke-width="0.85"/>
<polygon points="437.26,163.36 440.51,157.67 434.01,157.67" fill="#6a7fd8" stroke="#222" stroke-width="0.85"/>
<polygon points="491.88,164.32 495.13,158.63 488.63,158.63" fill="#6a7fd8" stroke="#222" stroke-width="0.85"/>
<polygon points="381.38,156.38 384.63,162.07 378.13,162.07" fill="#7d1414" stroke="#222" stroke-width="0.85"/>
<polygon points="437.26,141.00 440.51,146.69 434.01,146.69" fill="#7d1414" stroke="#222" stroke-width="0.85"/>
<polygon points="491.88,141.00 495.13,146.69 488.63,146.69" fill="#7d1414" stroke="#222" stroke-width="0.85"/>
<rect x="378.91" y="165.33" width="4.94" height="4.94" fill="#e0520f" stroke="#222" stroke-width="0.85"/>
<rect x="434.79" y="159.08" width="4.94" height="4.94" fill="#e0520f" stroke="#222" stroke-width="0.85"/>
<rect x="489.41" y="160.04" width="4.94" height="4.94" fill="#e0520f" stroke="#222" stroke-width="0.85"/>
<polygon points="381.38,162.27 384.50,165.39 381.38,168.51 378.26,165.39" fill="#9040c0" stroke="#222" stroke-width="0.85"/>
<polygon points="437.26,156.51 440.38,159.63 437.26,162.75 434.14,159.63" fill="#9040c0" stroke="#222" stroke-width="0.85"/>
<polygon points="491.88,155.55 495.00,158.67 491.88,161.79 488.76,158.67" fill="#9040c0" stroke="#222" stroke-width="0.85"/>
<circle cx="381.38" cy="168.28" r="2.6" fill="#f5a000" stroke="#222" stroke-width="0.85"/>
<circle cx="437.26" cy="163.47" r="2.6" fill="#f5a000" stroke="#222" stroke-width="0.85"/>
<circle cx="491.88" cy="163.47" r="2.6" fill="#f5a000" stroke="#222" stroke-width="0.85"/>
<line x1="381.38" y1="154.82" x2="381.38" y2="159.63" stroke="#222" stroke-width="0.9"/>
<line x1="378.98" y1="154.82" x2="383.78" y2="154.82" stroke="#222" stroke-width="0.9"/>
<line x1="437.26" y1="140.41" x2="437.26" y2="144.25" stroke="#222" stroke-width="0.9"/>
<line x1="434.86" y1="140.41" x2="439.66" y2="140.41" stroke="#222" stroke-width="0.9"/>
<line x1="491.88" y1="138.01" x2="491.88" y2="144.25" stroke="#222" stroke-width="0.9"/>
<line x1="489.48" y1="138.01" x2="494.28" y2="138.01" stroke="#222" stroke-width="0.9"/>
<line x1="437.26" y1="152.90" x2="437.26" y2="155.78" stroke="#222" stroke-width="0.9"/>
<line x1="434.86" y1="152.90" x2="439.66" y2="152.90" stroke="#222" stroke-width="0.9"/>
<polygon points="381.38,170.90 383.08,175.70 379.68,175.70" fill="#e8281e"/>
<polygon points="437.26,170.90 438.96,175.70 435.56,175.70" fill="#e8281e"/>
<polygon points="491.88,170.90 493.58,175.70 490.18,175.70" fill="#e8281e"/>
<line x1="532.40" y1="170.20" x2="532.40" y2="50.07" stroke="#222" stroke-width="1"/>
<line x1="530.00" y1="170.20" x2="532.40" y2="170.20" stroke="#222" stroke-width="0.9"/>
<text x="0" y="0" font-size="8.8" text-anchor="end" font-weight="normal" fill="#222" transform="translate(527.80 173.70) scale(1.0 1.08)">0</text>
<line x1="530.80" y1="165.39" x2="532.40" y2="165.39" stroke="#222" stroke-width="0.8"/>
<line x1="530.80" y1="160.59" x2="532.40" y2="160.59" stroke="#222" stroke-width="0.8"/>
<line x1="530.80" y1="155.78" x2="532.40" y2="155.78" stroke="#222" stroke-width="0.8"/>
<line x1="530.80" y1="150.98" x2="532.40" y2="150.98" stroke="#222" stroke-width="0.8"/>
<line x1="530.00" y1="146.17" x2="532.40" y2="146.17" stroke="#222" stroke-width="0.9"/>
<text x="0" y="0" font-size="8.8" text-anchor="end" font-weight="normal" fill="#222" transform="translate(527.80 149.67) scale(1.0 1.08)">50</text>
<line x1="530.80" y1="141.37" x2="532.40" y2="141.37" stroke="#222" stroke-width="0.8"/>
<line x1="530.80" y1="136.56" x2="532.40" y2="136.56" stroke="#222" stroke-width="0.8"/>
<line x1="530.80" y1="131.76" x2="532.40" y2="131.76" stroke="#222" stroke-width="0.8"/>
<line x1="530.80" y1="126.95" x2="532.40" y2="126.95" stroke="#222" stroke-width="0.8"/>
<line x1="530.00" y1="122.15" x2="532.40" y2="122.15" stroke="#222" stroke-width="0.9"/>
<text x="0" y="0" font-size="8.8" text-anchor="end" font-weight="normal" fill="#222" transform="translate(527.80 125.65) scale(1.0 1.08)">100</text>
<line x1="530.80" y1="117.34" x2="532.40" y2="117.34" stroke="#222" stroke-width="0.8"/>
<line x1="530.80" y1="112.54" x2="532.40" y2="112.54" stroke="#222" stroke-width="0.8"/>
<line x1="530.80" y1="107.73" x2="532.40" y2="107.73" stroke="#222" stroke-width="0.8"/>
<line x1="530.80" y1="102.93" x2="532.40" y2="102.93" stroke="#222" stroke-width="0.8"/>
<line x1="530.00" y1="98.12" x2="532.40" y2="98.12" stroke="#222" stroke-width="0.9"/>
<text x="0" y="0" font-size="8.8" text-anchor="end" font-weight="normal" fill="#222" transform="translate(527.80 101.62) scale(1.0 1.08)">150</text>
<line x1="530.80" y1="93.32" x2="532.40" y2="93.32" stroke="#222" stroke-width="0.8"/>
<line x1="530.80" y1="88.51" x2="532.40" y2="88.51" stroke="#222" stroke-width="0.8"/>
<line x1="530.80" y1="83.71" x2="532.40" y2="83.71" stroke="#222" stroke-width="0.8"/>
<line x1="530.80" y1="78.90" x2="532.40" y2="78.90" stroke="#222" stroke-width="0.8"/>
<line x1="530.00" y1="74.10" x2="532.40" y2="74.10" stroke="#222" stroke-width="0.9"/>
<text x="0" y="0" font-size="8.8" text-anchor="end" font-weight="normal" fill="#222" transform="translate(527.80 77.60) scale(1.0 1.08)">200</text>
<line x1="530.80" y1="69.29" x2="532.40" y2="69.29" stroke="#222" stroke-width="0.8"/>
<line x1="530.80" y1="64.49" x2="532.40" y2="64.49" stroke="#222" stroke-width="0.8"/>
<line x1="530.80" y1="59.68" x2="532.40" y2="59.68" stroke="#222" stroke-width="0.8"/>
<line x1="530.80" y1="54.88" x2="532.40" y2="54.88" stroke="#222" stroke-width="0.8"/>
<line x1="530.00" y1="50.07" x2="532.40" y2="50.07" stroke="#222" stroke-width="0.9"/>
<text x="0" y="0" font-size="8.8" text-anchor="end" font-weight="normal" fill="#222" transform="translate(527.80 53.57) scale(1.0 1.08)">250</text>
<line x1="529.80" y1="170.20" x2="678.30" y2="170.20" stroke="#222" stroke-width="1"/>
<line x1="552.30" y1="170.20" x2="552.30" y2="173.00" stroke="#222" stroke-width="0.9"/>
<text x="0" y="0" font-size="8.8" text-anchor="middle" font-weight="normal" fill="#222" transform="translate(552.30 181.60) scale(1.0 1.08)">50</text>
<line x1="594.30" y1="170.20" x2="594.30" y2="173.00" stroke="#222" stroke-width="0.9"/>
<text x="0" y="0" font-size="8.8" text-anchor="middle" font-weight="normal" fill="#222" transform="translate(594.30 181.60) scale(1.0 1.08)">60</text>
<line x1="636.30" y1="170.20" x2="636.30" y2="173.00" stroke="#222" stroke-width="0.9"/>
<text x="0" y="0" font-size="8.8" text-anchor="middle" font-weight="normal" fill="#222" transform="translate(636.30 181.60) scale(1.0 1.08)">70</text>
<line x1="678.30" y1="170.20" x2="678.30" y2="173.00" stroke="#222" stroke-width="0.9"/>
<text x="0" y="0" font-size="8.8" text-anchor="middle" font-weight="normal" fill="#222" transform="translate(678.30 181.60) scale(1.0 1.08)">80</text>
<line x1="552.30" y1="170.20" x2="552.30" y2="172.00" stroke="#222" stroke-width="0.8"/>
<line x1="573.30" y1="170.20" x2="573.30" y2="172.00" stroke="#222" stroke-width="0.8"/>
<line x1="594.30" y1="170.20" x2="594.30" y2="172.00" stroke="#222" stroke-width="0.8"/>
<line x1="615.30" y1="170.20" x2="615.30" y2="172.00" stroke="#222" stroke-width="0.8"/>
<line x1="636.30" y1="170.20" x2="636.30" y2="172.00" stroke="#222" stroke-width="0.8"/>
<line x1="657.30" y1="170.20" x2="657.30" y2="172.00" stroke="#222" stroke-width="0.8"/>
<text x="0" y="0" font-size="9.1" text-anchor="middle" font-weight="normal" fill="#222" transform="translate(611.90 193.50) scale(1.0 1.05)">Weeks Post-Vaccination</text>
<text x="537.80" y="54.50" font-size="10.9" text-anchor="start" font-weight="normal" fill="#222">J1994_14</text>
<text x="537.80" y="68.30" font-size="10.9" text-anchor="start" font-weight="normal" fill="#222">G12V</text>
<clipPath id="clip532"><rect x="532.4" y="40" width="153.89999999999998" height="130.2"/></clipPath>
<g clip-path="url(#clip532)">
<polyline points="501.90,166.36 540.12,168.76 598.50,161.55 652.68,170.20" fill="none" stroke="#8a8a8a" stroke-width="1.05"/>
<polyline points="501.90,160.59 540.12,164.43 598.50,159.15 652.68,169.24" fill="none" stroke="#333333" stroke-width="1.05"/>
<polyline points="501.90,154.82 540.12,158.19 598.50,154.82 652.68,166.36" fill="none" stroke="#b6d3f0" stroke-width="1.05"/>
<polyline points="501.90,155.78 540.12,159.63 598.50,155.78 652.68,167.32" fill="none" stroke="#7a90e0" stroke-width="1.05"/>
<polyline points="501.90,145.21 540.12,150.98 598.50,147.62 652.68,163.95" fill="none" stroke="#8c2a2a" stroke-width="1.05"/>
<polyline points="501.90,148.58 540.12,155.30 598.50,152.42 652.68,165.39" fill="none" stroke="#e8632a" stroke-width="1.05"/>
<polyline points="501.90,144.25 540.12,146.17 598.50,153.38 652.68,163.95" fill="none" stroke="#a05cd0" stroke-width="1.05"/>
<polyline points="501.90,75.54 540.12,82.27 598.50,106.29 652.68,125.51" fill="none" stroke="#f5a623" stroke-width="1.05"/>
</g>
<polygon points="540.12,165.64 543.24,168.76 540.12,171.88 537.00,168.76" fill="#9a9a9a" stroke="#222" stroke-width="0.85"/>
<polygon points="598.50,158.43 601.62,161.55 598.50,164.67 595.38,161.55" fill="#9a9a9a" stroke="#222" stroke-width="0.85"/>
<polygon points="652.68,167.08 655.80,170.20 652.68,173.32 649.56,170.20" fill="#9a9a9a" stroke="#222" stroke-width="0.85"/>
<polygon points="540.12,167.68 543.37,162.00 536.87,162.00" fill="#ffffff" stroke="#222" stroke-width="0.85"/>
<polygon points="598.50,162.40 601.75,156.71 595.25,156.71" fill="#ffffff" stroke="#222" stroke-width="0.85"/>
<polygon points="652.68,172.49 655.93,166.80 649.43,166.80" fill="#ffffff" stroke="#222" stroke-width="0.85"/>
<circle cx="540.12" cy="158.19" r="2.6" fill="#b9d6f2" stroke="#222" stroke-width="0.85"/>
<circle cx="598.50" cy="154.82" r="2.6" fill="#b9d6f2" stroke="#222" stroke-width="0.85"/>
<circle cx="652.68" cy="166.36" r="2.6" fill="#b9d6f2" stroke="#222" stroke-width="0.85"/>
<polygon points="540.12,162.88 543.37,157.19 536.87,157.19" fill="#6a7fd8" stroke="#222" stroke-width="0.85"/>
<polygon points="598.50,159.03 601.75,153.35 595.25,153.35" fill="#6a7fd8" stroke="#222" stroke-width="0.85"/>
<polygon points="652.68,170.57 655.93,164.88 649.43,164.88" fill="#6a7fd8" stroke="#222" stroke-width="0.85"/>
<polygon points="540.12,147.73 543.37,153.42 536.87,153.42" fill="#7d1414" stroke="#222" stroke-width="0.85"/>
<polygon points="598.50,144.37 601.75,150.05 595.25,150.05" fill="#7d1414" stroke="#222" stroke-width="0.85"/>
<polygon points="652.68,160.70 655.93,166.39 649.43,166.39" fill="#7d1414" stroke="#222" stroke-width="0.85"/>
<rect x="537.65" y="152.83" width="4.94" height="4.94" fill="#e0520f" stroke="#222" stroke-width="0.85"/>
<rect x="596.03" y="149.95" width="4.94" height="4.94" fill="#e0520f" stroke="#222" stroke-width="0.85"/>
<rect x="650.21" y="162.92" width="4.94" height="4.94" fill="#e0520f" stroke="#222" stroke-width="0.85"/>
<polygon points="540.12,143.05 543.24,146.17 540.12,149.29 537.00,146.17" fill="#9040c0" stroke="#222" stroke-width="0.85"/>
<polygon points="598.50,150.26 601.62,153.38 598.50,156.50 595.38,153.38" fill="#9040c0" stroke="#222" stroke-width="0.85"/>
<polygon points="652.68,160.83 655.80,163.95 652.68,167.07 649.56,163.95" fill="#9040c0" stroke="#222" stroke-width="0.85"/>
<circle cx="540.12" cy="82.27" r="2.6" fill="#f5a000" stroke="#222" stroke-width="0.85"/>
<circle cx="598.50" cy="106.29" r="2.6" fill="#f5a000" stroke="#222" stroke-width="0.85"/>
<circle cx="652.68" cy="125.51" r="2.6" fill="#f5a000" stroke="#222" stroke-width="0.85"/>
<line x1="540.12" y1="71.22" x2="540.12" y2="81.07" stroke="#8a8a8a" stroke-width="0.9"/>
<line x1="537.72" y1="71.22" x2="542.52" y2="71.22" stroke="#8a8a8a" stroke-width="0.9"/>
<line x1="598.50" y1="92.36" x2="598.50" y2="105.09" stroke="#8a8a8a" stroke-width="0.9"/>
<line x1="596.10" y1="92.36" x2="600.90" y2="92.36" stroke="#8a8a8a" stroke-width="0.9"/>
<line x1="652.68" y1="119.27" x2="652.68" y2="124.31" stroke="#8a8a8a" stroke-width="0.9"/>
<line x1="650.28" y1="119.27" x2="655.08" y2="119.27" stroke="#8a8a8a" stroke-width="0.9"/>
<line x1="540.12" y1="142.33" x2="540.12" y2="146.17" stroke="#222" stroke-width="0.9"/>
<line x1="537.72" y1="142.33" x2="542.52" y2="142.33" stroke="#222" stroke-width="0.9"/>
<line x1="598.50" y1="138.97" x2="598.50" y2="147.62" stroke="#222" stroke-width="0.9"/>
<line x1="596.10" y1="138.97" x2="600.90" y2="138.97" stroke="#222" stroke-width="0.9"/>
<line x1="652.68" y1="157.71" x2="652.68" y2="163.95" stroke="#222" stroke-width="0.9"/>
<line x1="650.28" y1="157.71" x2="655.08" y2="157.71" stroke="#222" stroke-width="0.9"/>
<polygon points="540.12,170.90 541.82,175.70 538.42,175.70" fill="#e8281e"/>
<polygon points="598.50,170.90 600.20,175.70 596.80,175.70" fill="#e8281e"/>
<polygon points="652.68,170.90 654.38,175.70 650.98,175.70" fill="#e8281e"/>
<text x="9.50" y="106.90" font-size="9.5" text-anchor="middle" font-weight="normal" fill="#222" transform="rotate(-90 9.5 106.9)">IFN<tspan font-size="6.2" dy="1.5">γ</tspan><tspan dy="-1.5"> SFU per 1x10</tspan><tspan font-size="7.2" dy="-3.8">6</tspan><tspan dy="3.8"> PBMCs</tspan></text>
<line x1="34.30" y1="354.10" x2="34.30" y2="237.30" stroke="#333" stroke-width="1"/>
<line x1="30.10" y1="337.20" x2="34.30" y2="337.20" stroke="#333" stroke-width="0.9"/>
<text x="0" y="0" font-size="8.3" text-anchor="end" font-weight="normal" fill="#222" transform="translate(28.70 340.30) scale(1.0 1.1)">0</text>
<line x1="30.10" y1="303.90" x2="34.30" y2="303.90" stroke="#333" stroke-width="0.9"/>
<text x="0" y="0" font-size="8.3" text-anchor="end" font-weight="normal" fill="#222" transform="translate(28.70 307.00) scale(1.0 1.1)">2</text>
<line x1="30.10" y1="270.60" x2="34.30" y2="270.60" stroke="#333" stroke-width="0.9"/>
<text x="0" y="0" font-size="8.3" text-anchor="end" font-weight="normal" fill="#222" transform="translate(28.70 273.70) scale(1.0 1.1)">4</text>
<line x1="30.10" y1="237.30" x2="34.30" y2="237.30" stroke="#333" stroke-width="0.9"/>
<text x="0" y="0" font-size="8.3" text-anchor="end" font-weight="normal" fill="#222" transform="translate(28.70 240.40) scale(1.0 1.1)">6</text>
<line x1="34.30" y1="354.10" x2="111.60" y2="354.10" stroke="#333" stroke-width="1"/>
<line x1="40.60" y1="354.10" x2="40.60" y2="358.40" stroke="#333" stroke-width="0.9"/>
<text x="43.80" y="360.10" font-size="9.0" text-anchor="end" font-weight="normal" fill="#222" transform="rotate(-90 43.800000000000004 360.1)">Control</text>
<line x1="51.40" y1="354.10" x2="51.40" y2="358.40" stroke="#333" stroke-width="0.9"/>
<text x="54.60" y="360.10" font-size="9.0" text-anchor="end" font-weight="normal" fill="#222" transform="rotate(-90 54.6 360.1)">G12V</text>
<line x1="62.00" y1="354.10" x2="62.00" y2="358.40" stroke="#333" stroke-width="0.9"/>
<text x="65.20" y="360.10" font-size="9.0" text-anchor="end" font-weight="normal" fill="#222" transform="rotate(-90 65.2 360.1)">G12A</text>
<line x1="72.90" y1="354.10" x2="72.90" y2="358.40" stroke="#333" stroke-width="0.9"/>
<text x="76.10" y="360.10" font-size="9.0" text-anchor="end" font-weight="normal" fill="#222" transform="rotate(-90 76.10000000000001 360.1)">G12R</text>
<line x1="83.50" y1="354.10" x2="83.50" y2="358.40" stroke="#333" stroke-width="0.9"/>
<text x="86.70" y="360.10" font-size="9.0" text-anchor="end" font-weight="normal" fill="#222" transform="rotate(-90 86.7 360.1)">G12C</text>
<line x1="94.10" y1="354.10" x2="94.10" y2="358.40" stroke="#333" stroke-width="0.9"/>
<text x="97.30" y="360.10" font-size="9.0" text-anchor="end" font-weight="normal" fill="#222" transform="rotate(-90 97.3 360.1)">G12D</text>
<line x1="104.70" y1="354.10" x2="104.70" y2="358.40" stroke="#333" stroke-width="0.9"/>
<text x="107.90" y="360.10" font-size="9.0" text-anchor="end" font-weight="normal" fill="#222" transform="rotate(-90 107.9 360.1)">G13D</text>
<text x="70.60" y="220.20" font-size="10.6" text-anchor="middle" font-weight="normal" fill="#222">CD4 Tcm Acv</text>
<text x="12.80" y="294.00" font-size="9.2" text-anchor="middle" font-weight="normal" fill="#222" transform="rotate(-90 12.8 294)">% of CD4s</text>
<text x="21.60" y="294.00" font-size="9.2" text-anchor="middle" font-weight="normal" fill="#222" transform="rotate(-90 21.6 294)">normalized to control</text>
<clipPath id="cb34"><rect x="34.3" y="200" width="82.3" height="154.10000000000002"/></clipPath>
<g clip-path="url(#cb34)">
<line x1="51.40" y1="274.26" x2="51.40" y2="354.68" stroke="#222" stroke-width="0.9"/>
<line x1="49.10" y1="274.26" x2="53.70" y2="274.26" stroke="#222" stroke-width="0.9"/>
<line x1="49.10" y1="354.68" x2="53.70" y2="354.68" stroke="#222" stroke-width="0.9"/>
<line x1="47.80" y1="314.22" x2="55.00" y2="314.22" stroke="#222" stroke-width="0.9"/>
<line x1="62.00" y1="289.41" x2="62.00" y2="344.36" stroke="#222" stroke-width="0.9"/>
<line x1="59.70" y1="289.41" x2="64.30" y2="289.41" stroke="#222" stroke-width="0.9"/>
<line x1="59.70" y1="344.36" x2="64.30" y2="344.36" stroke="#222" stroke-width="0.9"/>
<line x1="58.40" y1="317.22" x2="65.60" y2="317.22" stroke="#222" stroke-width="0.9"/>
<line x1="72.90" y1="303.40" x2="72.90" y2="341.70" stroke="#222" stroke-width="0.9"/>
<line x1="70.60" y1="303.40" x2="75.20" y2="303.40" stroke="#222" stroke-width="0.9"/>
<line x1="70.60" y1="341.70" x2="75.20" y2="341.70" stroke="#222" stroke-width="0.9"/>
<line x1="69.30" y1="322.55" x2="76.50" y2="322.55" stroke="#222" stroke-width="0.9"/>
<line x1="83.50" y1="302.73" x2="83.50" y2="360.51" stroke="#222" stroke-width="0.9"/>
<line x1="81.20" y1="302.73" x2="85.80" y2="302.73" stroke="#222" stroke-width="0.9"/>
<line x1="81.20" y1="360.51" x2="85.80" y2="360.51" stroke="#222" stroke-width="0.9"/>
<line x1="79.90" y1="331.04" x2="87.10" y2="331.04" stroke="#222" stroke-width="0.9"/>
<line x1="94.10" y1="312.39" x2="94.10" y2="368.83" stroke="#222" stroke-width="0.9"/>
<line x1="91.80" y1="312.39" x2="96.40" y2="312.39" stroke="#222" stroke-width="0.9"/>
<line x1="91.80" y1="368.83" x2="96.40" y2="368.83" stroke="#222" stroke-width="0.9"/>
<line x1="90.50" y1="340.36" x2="97.70" y2="340.36" stroke="#222" stroke-width="0.9"/>
<line x1="104.70" y1="301.57" x2="104.70" y2="362.18" stroke="#222" stroke-width="0.9"/>
<line x1="102.40" y1="301.57" x2="107.00" y2="301.57" stroke="#222" stroke-width="0.9"/>
<line x1="102.40" y1="362.18" x2="107.00" y2="362.18" stroke="#222" stroke-width="0.9"/>
<line x1="101.10" y1="332.20" x2="108.30" y2="332.20" stroke="#222" stroke-width="0.9"/>
</g>
<circle cx="39.20" cy="337.20" r="2.45" fill="#9a9a9a" stroke="#2a2a2a" stroke-width="0.75"/>
<circle cx="42.00" cy="337.20" r="2.45" fill="#9a9a9a" stroke="#2a2a2a" stroke-width="0.75"/>
<circle cx="40.60" cy="337.20" r="2.45" fill="#9a9a9a" stroke="#2a2a2a" stroke-width="0.75"/>
<circle cx="51.40" cy="257.28" r="2.45" fill="#f5a000" stroke="#2a2a2a" stroke-width="0.75"/>
<circle cx="51.40" cy="319.72" r="2.45" fill="#f5a000" stroke="#2a2a2a" stroke-width="0.75"/>
<circle cx="51.40" cy="329.54" r="2.45" fill="#f5a000" stroke="#2a2a2a" stroke-width="0.75"/>
<circle cx="51.40" cy="349.02" r="2.45" fill="#f5a000" stroke="#2a2a2a" stroke-width="0.75"/>
<circle cx="62.00" cy="276.43" r="2.45" fill="#e0520f" stroke="#2a2a2a" stroke-width="0.75"/>
<circle cx="62.00" cy="322.88" r="2.45" fill="#e0520f" stroke="#2a2a2a" stroke-width="0.75"/>
<circle cx="62.00" cy="331.21" r="2.45" fill="#e0520f" stroke="#2a2a2a" stroke-width="0.75"/>
<circle cx="62.00" cy="337.87" r="2.45" fill="#e0520f" stroke="#2a2a2a" stroke-width="0.75"/>
<circle cx="72.90" cy="295.57" r="2.45" fill="#7d1414" stroke="#2a2a2a" stroke-width="0.75"/>
<circle cx="72.90" cy="322.88" r="2.45" fill="#7d1414" stroke="#2a2a2a" stroke-width="0.75"/>
<circle cx="73.70" cy="334.70" r="2.45" fill="#7d1414" stroke="#2a2a2a" stroke-width="0.75"/>
<circle cx="72.30" cy="337.87" r="2.45" fill="#7d1414" stroke="#2a2a2a" stroke-width="0.75"/>
<circle cx="83.50" cy="290.58" r="2.45" fill="#9040c0" stroke="#2a2a2a" stroke-width="0.75"/>
<circle cx="83.50" cy="333.87" r="2.45" fill="#9040c0" stroke="#2a2a2a" stroke-width="0.75"/>
<circle cx="83.50" cy="342.19" r="2.45" fill="#9040c0" stroke="#2a2a2a" stroke-width="0.75"/>
<circle cx="94.10" cy="299.74" r="2.45" fill="#6a7fd8" stroke="#2a2a2a" stroke-width="0.75"/>
<circle cx="94.10" cy="347.19" r="2.45" fill="#6a7fd8" stroke="#2a2a2a" stroke-width="0.75"/>
<circle cx="94.10" cy="353.18" r="2.45" fill="#6a7fd8" stroke="#2a2a2a" stroke-width="0.75"/>
<circle cx="104.70" cy="286.42" r="2.45" fill="#b9d6f2" stroke="#2a2a2a" stroke-width="0.75"/>
<circle cx="104.70" cy="339.70" r="2.45" fill="#b9d6f2" stroke="#2a2a2a" stroke-width="0.75"/>
<circle cx="103.80" cy="351.02" r="2.45" fill="#b9d6f2" stroke="#2a2a2a" stroke-width="0.75"/>
<circle cx="105.60" cy="351.02" r="2.45" fill="#b9d6f2" stroke="#2a2a2a" stroke-width="0.75"/>
<line x1="126.20" y1="354.30" x2="126.20" y2="239.20" stroke="#333" stroke-width="1"/>
<line x1="122.00" y1="338.20" x2="126.20" y2="338.20" stroke="#333" stroke-width="0.9"/>
<text x="0" y="0" font-size="8.3" text-anchor="end" font-weight="normal" fill="#222" transform="translate(120.60 341.30) scale(1.0 1.1)">0</text>
<line x1="122.00" y1="305.20" x2="126.20" y2="305.20" stroke="#333" stroke-width="0.9"/>
<text x="0" y="0" font-size="8.3" text-anchor="end" font-weight="normal" fill="#222" transform="translate(120.60 308.30) scale(1.0 1.1)">2</text>
<line x1="122.00" y1="272.20" x2="126.20" y2="272.20" stroke="#333" stroke-width="0.9"/>
<text x="0" y="0" font-size="8.3" text-anchor="end" font-weight="normal" fill="#222" transform="translate(120.60 275.30) scale(1.0 1.1)">4</text>
<line x1="122.00" y1="239.20" x2="126.20" y2="239.20" stroke="#333" stroke-width="0.9"/>
<text x="0" y="0" font-size="8.3" text-anchor="end" font-weight="normal" fill="#222" transform="translate(120.60 242.30) scale(1.0 1.1)">6</text>
<line x1="126.20" y1="354.30" x2="202.70" y2="354.30" stroke="#333" stroke-width="1"/>
<line x1="132.50" y1="354.30" x2="132.50" y2="358.60" stroke="#333" stroke-width="0.9"/>
<text x="135.70" y="360.30" font-size="9.0" text-anchor="end" font-weight="normal" fill="#222" transform="rotate(-90 135.7 360.3)">Control</text>
<line x1="143.30" y1="354.30" x2="143.30" y2="358.60" stroke="#333" stroke-width="0.9"/>
<text x="146.50" y="360.30" font-size="9.0" text-anchor="end" font-weight="normal" fill="#222" transform="rotate(-90 146.5 360.3)">G12V</text>
<line x1="153.80" y1="354.30" x2="153.80" y2="358.60" stroke="#333" stroke-width="0.9"/>
<text x="157.00" y="360.30" font-size="9.0" text-anchor="end" font-weight="normal" fill="#222" transform="rotate(-90 157.0 360.3)">G12A</text>
<line x1="164.10" y1="354.30" x2="164.10" y2="358.60" stroke="#333" stroke-width="0.9"/>
<text x="167.30" y="360.30" font-size="9.0" text-anchor="end" font-weight="normal" fill="#222" transform="rotate(-90 167.29999999999998 360.3)">G12R</text>
<line x1="174.60" y1="354.30" x2="174.60" y2="358.60" stroke="#333" stroke-width="0.9"/>
<text x="177.80" y="360.30" font-size="9.0" text-anchor="end" font-weight="normal" fill="#222" transform="rotate(-90 177.79999999999998 360.3)">G12C</text>
<line x1="185.20" y1="354.30" x2="185.20" y2="358.60" stroke="#333" stroke-width="0.9"/>
<text x="188.40" y="360.30" font-size="9.0" text-anchor="end" font-weight="normal" fill="#222" transform="rotate(-90 188.39999999999998 360.3)">G12D</text>
<line x1="195.70" y1="354.30" x2="195.70" y2="358.60" stroke="#333" stroke-width="0.9"/>
<text x="198.90" y="360.30" font-size="9.0" text-anchor="end" font-weight="normal" fill="#222" transform="rotate(-90 198.89999999999998 360.3)">G13D</text>
<text x="162.30" y="220.20" font-size="10.6" text-anchor="middle" font-weight="normal" fill="#222">CD4 Tem Acv</text>
<clipPath id="cb126"><rect x="126.2" y="200" width="81.49999999999999" height="154.3"/></clipPath>
<g clip-path="url(#cb126)">
<line x1="143.30" y1="263.62" x2="143.30" y2="312.62" stroke="#222" stroke-width="0.9"/>
<line x1="141.00" y1="263.62" x2="145.60" y2="263.62" stroke="#222" stroke-width="0.9"/>
<line x1="141.00" y1="312.62" x2="145.60" y2="312.62" stroke="#222" stroke-width="0.9"/>
<line x1="139.70" y1="288.87" x2="146.90" y2="288.87" stroke="#222" stroke-width="0.9"/>
<line x1="153.80" y1="272.53" x2="153.80" y2="310.15" stroke="#222" stroke-width="0.9"/>
<line x1="151.50" y1="272.53" x2="156.10" y2="272.53" stroke="#222" stroke-width="0.9"/>
<line x1="151.50" y1="310.15" x2="156.10" y2="310.15" stroke="#222" stroke-width="0.9"/>
<line x1="150.20" y1="291.18" x2="157.40" y2="291.18" stroke="#222" stroke-width="0.9"/>
<line x1="164.10" y1="277.48" x2="164.10" y2="298.27" stroke="#222" stroke-width="0.9"/>
<line x1="161.80" y1="277.48" x2="166.40" y2="277.48" stroke="#222" stroke-width="0.9"/>
<line x1="161.80" y1="298.27" x2="166.40" y2="298.27" stroke="#222" stroke-width="0.9"/>
<line x1="160.50" y1="287.38" x2="167.70" y2="287.38" stroke="#222" stroke-width="0.9"/>
<line x1="174.60" y1="274.68" x2="174.60" y2="315.43" stroke="#222" stroke-width="0.9"/>
<line x1="172.30" y1="274.68" x2="176.90" y2="274.68" stroke="#222" stroke-width="0.9"/>
<line x1="172.30" y1="315.43" x2="176.90" y2="315.43" stroke="#222" stroke-width="0.9"/>
<line x1="171.00" y1="296.12" x2="178.20" y2="296.12" stroke="#222" stroke-width="0.9"/>
<line x1="185.20" y1="301.90" x2="185.20" y2="321.70" stroke="#222" stroke-width="0.9"/>
<line x1="182.90" y1="301.90" x2="187.50" y2="301.90" stroke="#222" stroke-width="0.9"/>
<line x1="182.90" y1="321.70" x2="187.50" y2="321.70" stroke="#222" stroke-width="0.9"/>
<line x1="181.60" y1="311.63" x2="188.80" y2="311.63" stroke="#222" stroke-width="0.9"/>
<line x1="195.70" y1="282.10" x2="195.70" y2="306.85" stroke="#222" stroke-width="0.9"/>
<line x1="193.40" y1="282.10" x2="198.00" y2="282.10" stroke="#222" stroke-width="0.9"/>
<line x1="193.40" y1="306.85" x2="198.00" y2="306.85" stroke="#222" stroke-width="0.9"/>
<line x1="192.10" y1="294.97" x2="199.30" y2="294.97" stroke="#222" stroke-width="0.9"/>
</g>
<circle cx="130.90" cy="338.20" r="2.45" fill="#9a9a9a" stroke="#2a2a2a" stroke-width="0.75"/>
<circle cx="134.10" cy="338.20" r="2.45" fill="#9a9a9a" stroke="#2a2a2a" stroke-width="0.75"/>
<circle cx="132.50" cy="338.20" r="2.45" fill="#9a9a9a" stroke="#2a2a2a" stroke-width="0.75"/>
<circle cx="142.10" cy="270.55" r="2.45" fill="#f5a000" stroke="#2a2a2a" stroke-width="0.75"/>
<circle cx="144.90" cy="270.55" r="2.45" fill="#f5a000" stroke="#2a2a2a" stroke-width="0.75"/>
<circle cx="143.30" cy="289.69" r="2.45" fill="#f5a000" stroke="#2a2a2a" stroke-width="0.75"/>
<circle cx="143.30" cy="322.03" r="2.45" fill="#f5a000" stroke="#2a2a2a" stroke-width="0.75"/>
<circle cx="153.80" cy="277.48" r="2.45" fill="#e0520f" stroke="#2a2a2a" stroke-width="0.75"/>
<circle cx="153.80" cy="282.10" r="2.45" fill="#e0520f" stroke="#2a2a2a" stroke-width="0.75"/>
<circle cx="153.80" cy="286.88" r="2.45" fill="#e0520f" stroke="#2a2a2a" stroke-width="0.75"/>
<circle cx="153.80" cy="319.06" r="2.45" fill="#e0520f" stroke="#2a2a2a" stroke-width="0.75"/>
<circle cx="164.10" cy="275.00" r="2.45" fill="#7d1414" stroke="#2a2a2a" stroke-width="0.75"/>
<circle cx="163.50" cy="285.07" r="2.45" fill="#7d1414" stroke="#2a2a2a" stroke-width="0.75"/>
<circle cx="165.50" cy="286.72" r="2.45" fill="#7d1414" stroke="#2a2a2a" stroke-width="0.75"/>
<circle cx="164.10" cy="302.39" r="2.45" fill="#7d1414" stroke="#2a2a2a" stroke-width="0.75"/>
<circle cx="174.60" cy="274.68" r="2.45" fill="#9040c0" stroke="#2a2a2a" stroke-width="0.75"/>
<circle cx="174.60" cy="289.19" r="2.45" fill="#9040c0" stroke="#2a2a2a" stroke-width="0.75"/>
<circle cx="174.60" cy="299.92" r="2.45" fill="#9040c0" stroke="#2a2a2a" stroke-width="0.75"/>
<circle cx="174.60" cy="320.71" r="2.45" fill="#9040c0" stroke="#2a2a2a" stroke-width="0.75"/>
<circle cx="185.20" cy="299.09" r="2.45" fill="#6a7fd8" stroke="#2a2a2a" stroke-width="0.75"/>
<circle cx="185.20" cy="308.66" r="2.45" fill="#6a7fd8" stroke="#2a2a2a" stroke-width="0.75"/>
<circle cx="186.70" cy="317.41" r="2.45" fill="#6a7fd8" stroke="#2a2a2a" stroke-width="0.75"/>
<circle cx="184.20" cy="320.21" r="2.45" fill="#6a7fd8" stroke="#2a2a2a" stroke-width="0.75"/>
<circle cx="195.70" cy="278.63" r="2.45" fill="#b9d6f2" stroke="#2a2a2a" stroke-width="0.75"/>
<circle cx="194.50" cy="293.81" r="2.45" fill="#b9d6f2" stroke="#2a2a2a" stroke-width="0.75"/>
<circle cx="196.70" cy="297.44" r="2.45" fill="#b9d6f2" stroke="#2a2a2a" stroke-width="0.75"/>
<circle cx="195.70" cy="307.84" r="2.45" fill="#b9d6f2" stroke="#2a2a2a" stroke-width="0.75"/>
<line x1="246.30" y1="353.30" x2="246.30" y2="237.60" stroke="#333" stroke-width="1"/>
<line x1="242.10" y1="337.20" x2="246.30" y2="337.20" stroke="#333" stroke-width="0.9"/>
<text x="0" y="0" font-size="8.3" text-anchor="end" font-weight="normal" fill="#222" transform="translate(240.70 340.30) scale(1.0 1.1)">0</text>
<line x1="242.10" y1="304.00" x2="246.30" y2="304.00" stroke="#333" stroke-width="0.9"/>
<text x="0" y="0" font-size="8.3" text-anchor="end" font-weight="normal" fill="#222" transform="translate(240.70 307.10) scale(1.0 1.1)">2</text>
<line x1="242.10" y1="270.80" x2="246.30" y2="270.80" stroke="#333" stroke-width="0.9"/>
<text x="0" y="0" font-size="8.3" text-anchor="end" font-weight="normal" fill="#222" transform="translate(240.70 273.90) scale(1.0 1.1)">4</text>
<line x1="242.10" y1="237.60" x2="246.30" y2="237.60" stroke="#333" stroke-width="0.9"/>
<text x="0" y="0" font-size="8.3" text-anchor="end" font-weight="normal" fill="#222" transform="translate(240.70 240.70) scale(1.0 1.1)">6</text>
<line x1="246.30" y1="353.30" x2="323.00" y2="353.30" stroke="#333" stroke-width="1"/>
<line x1="253.10" y1="353.30" x2="253.10" y2="357.60" stroke="#333" stroke-width="0.9"/>
<text x="256.30" y="359.30" font-size="9.0" text-anchor="end" font-weight="normal" fill="#222" transform="rotate(-90 256.3 359.3)">Control</text>
<line x1="263.00" y1="353.30" x2="263.00" y2="357.60" stroke="#333" stroke-width="0.9"/>
<text x="266.20" y="359.30" font-size="9.0" text-anchor="end" font-weight="normal" fill="#222" transform="rotate(-90 266.2 359.3)">G12V</text>
<line x1="273.90" y1="353.30" x2="273.90" y2="357.60" stroke="#333" stroke-width="0.9"/>
<text x="277.10" y="359.30" font-size="9.0" text-anchor="end" font-weight="normal" fill="#222" transform="rotate(-90 277.09999999999997 359.3)">G12A</text>
<line x1="284.20" y1="353.30" x2="284.20" y2="357.60" stroke="#333" stroke-width="0.9"/>
<text x="287.40" y="359.30" font-size="9.0" text-anchor="end" font-weight="normal" fill="#222" transform="rotate(-90 287.4 359.3)">G12R</text>
<line x1="295.00" y1="353.30" x2="295.00" y2="357.60" stroke="#333" stroke-width="0.9"/>
<text x="298.20" y="359.30" font-size="9.0" text-anchor="end" font-weight="normal" fill="#222" transform="rotate(-90 298.2 359.3)">G12C</text>
<line x1="305.90" y1="353.30" x2="305.90" y2="357.60" stroke="#333" stroke-width="0.9"/>
<text x="309.10" y="359.30" font-size="9.0" text-anchor="end" font-weight="normal" fill="#222" transform="rotate(-90 309.09999999999997 359.3)">G12D</text>
<line x1="316.10" y1="353.30" x2="316.10" y2="357.60" stroke="#333" stroke-width="0.9"/>
<text x="319.30" y="359.30" font-size="9.0" text-anchor="end" font-weight="normal" fill="#222" transform="rotate(-90 319.3 359.3)">G13D</text>
<text x="282.60" y="222.30" font-size="10.6" text-anchor="middle" font-weight="normal" fill="#222">CD8 Tem Acv</text>
<text x="222.20" y="294.00" font-size="9.2" text-anchor="middle" font-weight="normal" fill="#222" transform="rotate(-90 222.2 294)">% of CD8s</text>
<text x="231.00" y="294.00" font-size="9.2" text-anchor="middle" font-weight="normal" fill="#222" transform="rotate(-90 231.0 294)">normalized to control</text>
<clipPath id="cb246"><rect x="246.3" y="200" width="81.69999999999999" height="153.3"/></clipPath>
<g clip-path="url(#cb246)">
<line x1="263.00" y1="274.12" x2="263.00" y2="322.26" stroke="#222" stroke-width="0.9"/>
<line x1="260.70" y1="274.12" x2="265.30" y2="274.12" stroke="#222" stroke-width="0.9"/>
<line x1="260.70" y1="322.26" x2="265.30" y2="322.26" stroke="#222" stroke-width="0.9"/>
<line x1="259.40" y1="299.02" x2="266.60" y2="299.02" stroke="#222" stroke-width="0.9"/>
<line x1="273.90" y1="293.21" x2="273.90" y2="339.69" stroke="#222" stroke-width="0.9"/>
<line x1="271.60" y1="293.21" x2="276.20" y2="293.21" stroke="#222" stroke-width="0.9"/>
<line x1="271.60" y1="339.69" x2="276.20" y2="339.69" stroke="#222" stroke-width="0.9"/>
<line x1="270.30" y1="316.95" x2="277.50" y2="316.95" stroke="#222" stroke-width="0.9"/>
<line x1="284.20" y1="289.06" x2="284.20" y2="336.37" stroke="#222" stroke-width="0.9"/>
<line x1="281.90" y1="289.06" x2="286.50" y2="289.06" stroke="#222" stroke-width="0.9"/>
<line x1="281.90" y1="336.37" x2="286.50" y2="336.37" stroke="#222" stroke-width="0.9"/>
<line x1="280.60" y1="313.13" x2="287.80" y2="313.13" stroke="#222" stroke-width="0.9"/>
<line x1="295.00" y1="288.23" x2="295.00" y2="340.52" stroke="#222" stroke-width="0.9"/>
<line x1="292.70" y1="288.23" x2="297.30" y2="288.23" stroke="#222" stroke-width="0.9"/>
<line x1="292.70" y1="340.52" x2="297.30" y2="340.52" stroke="#222" stroke-width="0.9"/>
<line x1="291.40" y1="314.46" x2="298.60" y2="314.46" stroke="#222" stroke-width="0.9"/>
<line x1="305.90" y1="308.65" x2="305.90" y2="349.65" stroke="#222" stroke-width="0.9"/>
<line x1="303.60" y1="308.65" x2="308.20" y2="308.65" stroke="#222" stroke-width="0.9"/>
<line x1="303.60" y1="349.65" x2="308.20" y2="349.65" stroke="#222" stroke-width="0.9"/>
<line x1="302.30" y1="329.23" x2="309.50" y2="329.23" stroke="#222" stroke-width="0.9"/>
<line x1="316.10" y1="312.30" x2="316.10" y2="347.49" stroke="#222" stroke-width="0.9"/>
<line x1="313.80" y1="312.30" x2="318.40" y2="312.30" stroke="#222" stroke-width="0.9"/>
<line x1="313.80" y1="347.49" x2="318.40" y2="347.49" stroke="#222" stroke-width="0.9"/>
<line x1="312.50" y1="330.23" x2="319.70" y2="330.23" stroke="#222" stroke-width="0.9"/>
</g>
<circle cx="251.70" cy="337.20" r="2.45" fill="#9a9a9a" stroke="#2a2a2a" stroke-width="0.75"/>
<circle cx="254.50" cy="337.20" r="2.45" fill="#9a9a9a" stroke="#2a2a2a" stroke-width="0.75"/>
<circle cx="253.10" cy="337.20" r="2.45" fill="#9a9a9a" stroke="#2a2a2a" stroke-width="0.75"/>
<circle cx="263.00" cy="274.12" r="2.45" fill="#f5a000" stroke="#2a2a2a" stroke-width="0.75"/>
<circle cx="263.00" cy="289.89" r="2.45" fill="#f5a000" stroke="#2a2a2a" stroke-width="0.75"/>
<circle cx="263.00" cy="300.68" r="2.45" fill="#f5a000" stroke="#2a2a2a" stroke-width="0.75"/>
<circle cx="263.00" cy="330.56" r="2.45" fill="#f5a000" stroke="#2a2a2a" stroke-width="0.75"/>
<circle cx="273.90" cy="287.40" r="2.45" fill="#e0520f" stroke="#2a2a2a" stroke-width="0.75"/>
<circle cx="273.90" cy="306.49" r="2.45" fill="#e0520f" stroke="#2a2a2a" stroke-width="0.75"/>
<circle cx="274.70" cy="335.54" r="2.45" fill="#e0520f" stroke="#2a2a2a" stroke-width="0.75"/>
<circle cx="273.10" cy="338.03" r="2.45" fill="#e0520f" stroke="#2a2a2a" stroke-width="0.75"/>
<circle cx="284.20" cy="279.10" r="2.45" fill="#7d1414" stroke="#2a2a2a" stroke-width="0.75"/>
<circle cx="284.20" cy="315.62" r="2.45" fill="#7d1414" stroke="#2a2a2a" stroke-width="0.75"/>
<circle cx="285.20" cy="327.24" r="2.45" fill="#7d1414" stroke="#2a2a2a" stroke-width="0.75"/>
<circle cx="283.20" cy="331.39" r="2.45" fill="#7d1414" stroke="#2a2a2a" stroke-width="0.75"/>
<circle cx="295.00" cy="287.40" r="2.45" fill="#9040c0" stroke="#2a2a2a" stroke-width="0.75"/>
<circle cx="295.00" cy="301.51" r="2.45" fill="#9040c0" stroke="#2a2a2a" stroke-width="0.75"/>
<circle cx="295.00" cy="328.90" r="2.45" fill="#9040c0" stroke="#2a2a2a" stroke-width="0.75"/>
<circle cx="295.00" cy="339.69" r="2.45" fill="#9040c0" stroke="#2a2a2a" stroke-width="0.75"/>
<circle cx="305.90" cy="299.85" r="2.45" fill="#6a7fd8" stroke="#2a2a2a" stroke-width="0.75"/>
<circle cx="305.30" cy="333.88" r="2.45" fill="#6a7fd8" stroke="#2a2a2a" stroke-width="0.75"/>
<circle cx="307.10" cy="338.86" r="2.45" fill="#6a7fd8" stroke="#2a2a2a" stroke-width="0.75"/>
<circle cx="305.90" cy="344.67" r="2.45" fill="#6a7fd8" stroke="#2a2a2a" stroke-width="0.75"/>
<circle cx="316.10" cy="305.66" r="2.45" fill="#b9d6f2" stroke="#2a2a2a" stroke-width="0.75"/>
<circle cx="316.10" cy="329.73" r="2.45" fill="#b9d6f2" stroke="#2a2a2a" stroke-width="0.75"/>
<circle cx="317.10" cy="341.35" r="2.45" fill="#b9d6f2" stroke="#2a2a2a" stroke-width="0.75"/>
<circle cx="315.10" cy="344.67" r="2.45" fill="#b9d6f2" stroke="#2a2a2a" stroke-width="0.75"/>
<polyline points="132.3,235.4 132.3,228.4 195.7,228.4 195.7,235.4" fill="none" stroke="#222" stroke-width="0.9"/>
<text x="164.00" y="227.00" font-size="7.4" text-anchor="middle" font-weight="normal" fill="#222">p=0.0174</text>
<polyline points="132.3,244.2 132.3,237.6 185.5,237.6 185.5,244.2" fill="none" stroke="#222" stroke-width="0.9"/>
<text x="158.60" y="236.00" font-size="7.4" text-anchor="middle" font-weight="normal" fill="#222">p=0.0369</text>
<polyline points="132.3,254.4 132.3,247.8 164.7,247.8 164.7,254.4" fill="none" stroke="#222" stroke-width="0.9"/>
<text x="148.70" y="246.30" font-size="7.4" text-anchor="middle" font-weight="normal" fill="#222">p=0.0094</text>
<polyline points="132.3,266.8 132.3,260.5 153.5,260.5 153.5,266.8" fill="none" stroke="#222" stroke-width="0.9"/>
<text x="143.60" y="259.00" font-size="7.4" text-anchor="middle" font-weight="normal" fill="#222">p=0.0491</text>
<line x1="408.50" y1="382.90" x2="408.50" y2="227.50" stroke="#222" stroke-width="0.9"/>
<line x1="404.30" y1="382.90" x2="408.50" y2="382.90" stroke="#222" stroke-width="0.8"/>
<text x="0" y="0" font-size="8.1" text-anchor="end" font-weight="normal" fill="#222" transform="translate(401.10 385.80) scale(1.0 1.05)">0</text>
<line x1="404.30" y1="351.82" x2="408.50" y2="351.82" stroke="#222" stroke-width="0.8"/>
<text x="0" y="0" font-size="8.1" text-anchor="end" font-weight="normal" fill="#222" transform="translate(401.10 354.72) scale(1.0 1.05)">1000</text>
<line x1="404.30" y1="320.74" x2="408.50" y2="320.74" stroke="#222" stroke-width="0.8"/>
<text x="0" y="0" font-size="8.1" text-anchor="end" font-weight="normal" fill="#222" transform="translate(401.10 323.64) scale(1.0 1.05)">2000</text>
<line x1="404.30" y1="289.66" x2="408.50" y2="289.66" stroke="#222" stroke-width="0.8"/>
<text x="0" y="0" font-size="8.1" text-anchor="end" font-weight="normal" fill="#222" transform="translate(401.10 292.56) scale(1.0 1.05)">3000</text>
<line x1="404.30" y1="258.58" x2="408.50" y2="258.58" stroke="#222" stroke-width="0.8"/>
<text x="0" y="0" font-size="8.1" text-anchor="end" font-weight="normal" fill="#222" transform="translate(401.10 261.48) scale(1.0 1.05)">4000</text>
<line x1="404.30" y1="227.50" x2="408.50" y2="227.50" stroke="#222" stroke-width="0.8"/>
<text x="0" y="0" font-size="8.1" text-anchor="end" font-weight="normal" fill="#222" transform="translate(401.10 230.40) scale(1.0 1.05)">5000</text>
<line x1="408.50" y1="382.90" x2="513.00" y2="382.90" stroke="#222" stroke-width="0.9"/>
<text x="459.50" y="223.80" font-size="10.4" text-anchor="middle" font-weight="normal" fill="#222">J1994_5</text>
<text x="0" y="0" font-size="7.6" text-anchor="middle" font-weight="normal" fill="#222" transform="translate(377.30 302.80) rotate(-90) scale(1.02 1.0)"># IFN<tspan font-size="5.6" dy="1">γ</tspan><tspan dy="-1"> spots per 1x10</tspan><tspan font-size="5.0" dy="-3">6</tspan><tspan dy="3"> PBMCs</tspan></text>
<line x1="413.40" y1="382.90" x2="413.40" y2="387.30" stroke="#222" stroke-width="0.8"/>
<line x1="420.60" y1="382.90" x2="420.60" y2="387.30" stroke="#222" stroke-width="0.8"/>
<text x="416.30" y="390.80" font-size="8.4" text-anchor="end" font-weight="normal" fill="#222" transform="rotate(-90 416.29999999999995 390.8)">Control</text>
<text x="423.50" y="390.80" font-size="8.4" text-anchor="end" font-weight="normal" fill="#222" transform="rotate(-90 423.49999999999994 390.8)">G12V</text>
<rect x="418.25" y="295.88" width="4.7" height="87.02" fill="#f2b642" stroke="#6b5020" stroke-width="0.6"/>
<circle cx="420.60" cy="290.28" r="2.25" fill="#f2ac2a" stroke="#222" stroke-width="0.75"/>
<circle cx="420.60" cy="295.88" r="2.25" fill="#f2ac2a" stroke="#222" stroke-width="0.75"/>
<circle cx="413.40" cy="381.97" r="2.25" fill="#e6e6e6" stroke="#222" stroke-width="0.75"/>
<line x1="430.84" y1="382.90" x2="430.84" y2="387.30" stroke="#222" stroke-width="0.8"/>
<line x1="438.04" y1="382.90" x2="438.04" y2="387.30" stroke="#222" stroke-width="0.8"/>
<text x="433.74" y="390.80" font-size="8.4" text-anchor="end" font-weight="normal" fill="#222" transform="rotate(-90 433.73999999999995 390.8)">Control</text>
<text x="440.94" y="390.80" font-size="8.4" text-anchor="end" font-weight="normal" fill="#222" transform="rotate(-90 440.93999999999994 390.8)">G12A</text>
<rect x="435.69" y="310.79" width="4.7" height="72.11" fill="#e08a50" stroke="#5a3520" stroke-width="0.6"/>
<rect x="435.69" y="310.79" width="4.7" height="17.84" fill="#000" fill-opacity="0.22"/>
<line x1="438.04" y1="292.46" x2="438.04" y2="328.63" stroke="#333" stroke-width="0.8"/>
<line x1="436.24" y1="292.46" x2="439.84" y2="292.46" stroke="#333" stroke-width="0.8"/>
<line x1="436.24" y1="328.63" x2="439.84" y2="328.63" stroke="#333" stroke-width="0.8"/>
<circle cx="438.04" cy="297.74" r="2.25" fill="#e06a28" stroke="#222" stroke-width="0.75"/>
<circle cx="438.04" cy="323.23" r="2.25" fill="#e06a28" stroke="#222" stroke-width="0.75"/>
<circle cx="430.84" cy="381.04" r="2.25" fill="#e6e6e6" stroke="#222" stroke-width="0.75"/>
<circle cx="430.84" cy="382.28" r="2.25" fill="#e6e6e6" stroke="#222" stroke-width="0.75"/>
<line x1="448.28" y1="382.90" x2="448.28" y2="387.30" stroke="#222" stroke-width="0.8"/>
<line x1="455.48" y1="382.90" x2="455.48" y2="387.30" stroke="#222" stroke-width="0.8"/>
<text x="451.18" y="390.80" font-size="8.4" text-anchor="end" font-weight="normal" fill="#222" transform="rotate(-90 451.17999999999995 390.8)">Control</text>
<text x="458.38" y="390.80" font-size="8.4" text-anchor="end" font-weight="normal" fill="#222" transform="rotate(-90 458.37999999999994 390.8)">G12R</text>
<rect x="453.13" y="294.79" width="4.7" height="88.11" fill="#9a4a40" stroke="#3a1a16" stroke-width="0.6"/>
<rect x="453.13" y="294.79" width="4.7" height="15.70" fill="#000" fill-opacity="0.22"/>
<line x1="455.48" y1="279.09" x2="455.48" y2="310.48" stroke="#333" stroke-width="0.8"/>
<line x1="453.68" y1="279.09" x2="457.28" y2="279.09" stroke="#333" stroke-width="0.8"/>
<line x1="453.68" y1="310.48" x2="457.28" y2="310.48" stroke="#333" stroke-width="0.8"/>
<circle cx="455.48" cy="283.13" r="2.25" fill="#8a1a14" stroke="#222" stroke-width="0.75"/>
<circle cx="455.48" cy="306.13" r="2.25" fill="#8a1a14" stroke="#222" stroke-width="0.75"/>
<circle cx="448.28" cy="378.86" r="2.25" fill="#e6e6e6" stroke="#222" stroke-width="0.75"/>
<circle cx="448.28" cy="381.66" r="2.25" fill="#e6e6e6" stroke="#222" stroke-width="0.75"/>
<line x1="465.72" y1="382.90" x2="465.72" y2="387.30" stroke="#222" stroke-width="0.8"/>
<line x1="472.92" y1="382.90" x2="472.92" y2="387.30" stroke="#222" stroke-width="0.8"/>
<text x="468.62" y="390.80" font-size="8.4" text-anchor="end" font-weight="normal" fill="#222" transform="rotate(-90 468.61999999999995 390.8)">Control</text>
<text x="475.82" y="390.80" font-size="8.4" text-anchor="end" font-weight="normal" fill="#222" transform="rotate(-90 475.81999999999994 390.8)">G12C</text>
<rect x="470.57" y="312.41" width="4.7" height="70.49" fill="#a868cc" stroke="#402850" stroke-width="0.6"/>
<circle cx="472.92" cy="308.62" r="2.25" fill="#a050c8" stroke="#222" stroke-width="0.75"/>
<circle cx="472.92" cy="315.30" r="2.25" fill="#a050c8" stroke="#222" stroke-width="0.75"/>
<circle cx="465.72" cy="381.97" r="2.25" fill="#e6e6e6" stroke="#222" stroke-width="0.75"/>
<line x1="483.16" y1="382.90" x2="483.16" y2="387.30" stroke="#222" stroke-width="0.8"/>
<line x1="490.36" y1="382.90" x2="490.36" y2="387.30" stroke="#222" stroke-width="0.8"/>
<text x="486.06" y="390.80" font-size="8.4" text-anchor="end" font-weight="normal" fill="#222" transform="rotate(-90 486.05999999999995 390.8)">Control</text>
<text x="493.26" y="390.80" font-size="8.4" text-anchor="end" font-weight="normal" fill="#222" transform="rotate(-90 493.25999999999993 390.8)">G12D</text>
<rect x="488.01" y="296.09" width="4.7" height="86.81" fill="#a4aae8" stroke="#404870" stroke-width="0.6"/>
<circle cx="490.36" cy="292.30" r="2.25" fill="#98a2e6" stroke="#222" stroke-width="0.75"/>
<circle cx="490.36" cy="296.09" r="2.25" fill="#98a2e6" stroke="#222" stroke-width="0.75"/>
<circle cx="483.16" cy="382.28" r="2.25" fill="#e6e6e6" stroke="#222" stroke-width="0.75"/>
<line x1="500.60" y1="382.90" x2="500.60" y2="387.30" stroke="#222" stroke-width="0.8"/>
<line x1="507.80" y1="382.90" x2="507.80" y2="387.30" stroke="#222" stroke-width="0.8"/>
<text x="503.50" y="390.80" font-size="8.4" text-anchor="end" font-weight="normal" fill="#222" transform="rotate(-90 503.49999999999994 390.8)">Control</text>
<text x="510.70" y="390.80" font-size="8.4" text-anchor="end" font-weight="normal" fill="#222" transform="rotate(-90 510.69999999999993 390.8)">G13D</text>
<rect x="505.45" y="315.77" width="4.7" height="67.13" fill="#cfe0f8" stroke="#505a68" stroke-width="0.6"/>
<circle cx="507.80" cy="311.57" r="2.25" fill="#d2e2f8" stroke="#222" stroke-width="0.75"/>
<circle cx="507.80" cy="315.77" r="2.25" fill="#d2e2f8" stroke="#222" stroke-width="0.75"/>
<circle cx="500.60" cy="382.28" r="2.25" fill="#e6e6e6" stroke="#222" stroke-width="0.75"/>
<line x1="557.80" y1="382.90" x2="557.80" y2="227.50" stroke="#222" stroke-width="0.9"/>
<line x1="553.60" y1="382.90" x2="557.80" y2="382.90" stroke="#222" stroke-width="0.8"/>
<text x="0" y="0" font-size="8.1" text-anchor="end" font-weight="normal" fill="#222" transform="translate(550.40 385.80) scale(1.0 1.05)">0</text>
<line x1="553.60" y1="351.82" x2="557.80" y2="351.82" stroke="#222" stroke-width="0.8"/>
<text x="0" y="0" font-size="8.1" text-anchor="end" font-weight="normal" fill="#222" transform="translate(550.40 354.72) scale(1.0 1.05)">1000</text>
<line x1="553.60" y1="320.74" x2="557.80" y2="320.74" stroke="#222" stroke-width="0.8"/>
<text x="0" y="0" font-size="8.1" text-anchor="end" font-weight="normal" fill="#222" transform="translate(550.40 323.64) scale(1.0 1.05)">2000</text>
<line x1="553.60" y1="289.66" x2="557.80" y2="289.66" stroke="#222" stroke-width="0.8"/>
<text x="0" y="0" font-size="8.1" text-anchor="end" font-weight="normal" fill="#222" transform="translate(550.40 292.56) scale(1.0 1.05)">3000</text>
<line x1="553.60" y1="258.58" x2="557.80" y2="258.58" stroke="#222" stroke-width="0.8"/>
<text x="0" y="0" font-size="8.1" text-anchor="end" font-weight="normal" fill="#222" transform="translate(550.40 261.48) scale(1.0 1.05)">4000</text>
<line x1="553.60" y1="227.50" x2="557.80" y2="227.50" stroke="#222" stroke-width="0.8"/>
<text x="0" y="0" font-size="8.1" text-anchor="end" font-weight="normal" fill="#222" transform="translate(550.40 230.40) scale(1.0 1.05)">5000</text>
<line x1="557.80" y1="382.90" x2="661.70" y2="382.90" stroke="#222" stroke-width="0.9"/>
<text x="612.30" y="223.80" font-size="10.4" text-anchor="middle" font-weight="normal" fill="#222">J1994_1</text>
<text x="0" y="0" font-size="7.6" text-anchor="middle" font-weight="normal" fill="#222" transform="translate(529.00 302.80) rotate(-90) scale(1.02 1.0)"># IFN<tspan font-size="5.6" dy="1">γ</tspan><tspan dy="-1"> spots per 1x10</tspan><tspan font-size="5.0" dy="-3">6</tspan><tspan dy="3"> PBMCs</tspan></text>
<line x1="563.30" y1="382.90" x2="563.30" y2="387.30" stroke="#222" stroke-width="0.8"/>
<line x1="570.70" y1="382.90" x2="570.70" y2="387.30" stroke="#222" stroke-width="0.8"/>
<text x="566.20" y="390.80" font-size="8.4" text-anchor="end" font-weight="normal" fill="#222" transform="rotate(-90 566.1999999999999 390.8)">Control</text>
<text x="573.60" y="390.80" font-size="8.4" text-anchor="end" font-weight="normal" fill="#222" transform="rotate(-90 573.5999999999999 390.8)">G12V</text>
<rect x="568.35" y="308.31" width="4.7" height="74.59" fill="#f2b642" stroke="#6b5020" stroke-width="0.6"/>
<circle cx="570.70" cy="306.44" r="2.25" fill="#f2ac2a" stroke="#222" stroke-width="0.75"/>
<circle cx="570.70" cy="308.31" r="2.25" fill="#f2ac2a" stroke="#222" stroke-width="0.75"/>
<circle cx="563.30" cy="382.28" r="2.25" fill="#e6e6e6" stroke="#222" stroke-width="0.75"/>
<line x1="580.68" y1="382.90" x2="580.68" y2="387.30" stroke="#222" stroke-width="0.8"/>
<line x1="588.08" y1="382.90" x2="588.08" y2="387.30" stroke="#222" stroke-width="0.8"/>
<text x="583.58" y="390.80" font-size="8.4" text-anchor="end" font-weight="normal" fill="#222" transform="rotate(-90 583.5799999999999 390.8)">Control</text>
<text x="590.98" y="390.80" font-size="8.4" text-anchor="end" font-weight="normal" fill="#222" transform="rotate(-90 590.9799999999999 390.8)">G12A</text>
<rect x="585.73" y="334.10" width="4.7" height="48.80" fill="#e08a50" stroke="#5a3520" stroke-width="0.6"/>
<circle cx="588.08" cy="333.48" r="2.25" fill="#e06a28" stroke="#222" stroke-width="0.75"/>
<circle cx="580.68" cy="382.28" r="2.25" fill="#e6e6e6" stroke="#222" stroke-width="0.75"/>
<line x1="598.06" y1="382.90" x2="598.06" y2="387.30" stroke="#222" stroke-width="0.8"/>
<line x1="605.46" y1="382.90" x2="605.46" y2="387.30" stroke="#222" stroke-width="0.8"/>
<text x="600.96" y="390.80" font-size="8.4" text-anchor="end" font-weight="normal" fill="#222" transform="rotate(-90 600.9599999999999 390.8)">Control</text>
<text x="608.36" y="390.80" font-size="8.4" text-anchor="end" font-weight="normal" fill="#222" transform="rotate(-90 608.3599999999999 390.8)">G12R</text>
<rect x="603.11" y="270.08" width="4.7" height="112.82" fill="#9a4a40" stroke="#3a1a16" stroke-width="0.6"/>
<circle cx="605.46" cy="264.80" r="2.25" fill="#8a1a14" stroke="#222" stroke-width="0.75"/>
<circle cx="605.46" cy="274.12" r="2.25" fill="#8a1a14" stroke="#222" stroke-width="0.75"/>
<circle cx="598.06" cy="382.28" r="2.25" fill="#e6e6e6" stroke="#222" stroke-width="0.75"/>
<line x1="615.44" y1="382.90" x2="615.44" y2="387.30" stroke="#222" stroke-width="0.8"/>
<line x1="622.84" y1="382.90" x2="622.84" y2="387.30" stroke="#222" stroke-width="0.8"/>
<text x="618.34" y="390.80" font-size="8.4" text-anchor="end" font-weight="normal" fill="#222" transform="rotate(-90 618.3399999999999 390.8)">Control</text>
<text x="625.74" y="390.80" font-size="8.4" text-anchor="end" font-weight="normal" fill="#222" transform="rotate(-90 625.7399999999999 390.8)">G12C</text>
<rect x="620.49" y="379.79" width="4.7" height="3.11" fill="#a868cc" stroke="#402850" stroke-width="0.6"/>
<circle cx="622.84" cy="378.55" r="2.25" fill="#a050c8" stroke="#222" stroke-width="0.75"/>
<circle cx="622.84" cy="379.79" r="2.25" fill="#a050c8" stroke="#222" stroke-width="0.75"/>
<circle cx="615.44" cy="382.28" r="2.25" fill="#e6e6e6" stroke="#222" stroke-width="0.75"/>
<line x1="632.82" y1="382.90" x2="632.82" y2="387.30" stroke="#222" stroke-width="0.8"/>
<line x1="640.22" y1="382.90" x2="640.22" y2="387.30" stroke="#222" stroke-width="0.8"/>
<text x="635.72" y="390.80" font-size="8.4" text-anchor="end" font-weight="normal" fill="#222" transform="rotate(-90 635.7199999999999 390.8)">Control</text>
<text x="643.12" y="390.80" font-size="8.4" text-anchor="end" font-weight="normal" fill="#222" transform="rotate(-90 643.1199999999999 390.8)">G12D</text>
<rect x="637.87" y="372.95" width="4.7" height="9.95" fill="#a4aae8" stroke="#404870" stroke-width="0.6"/>
<circle cx="640.22" cy="371.71" r="2.25" fill="#98a2e6" stroke="#222" stroke-width="0.75"/>
<circle cx="640.22" cy="373.27" r="2.25" fill="#98a2e6" stroke="#222" stroke-width="0.75"/>
<circle cx="632.82" cy="382.28" r="2.25" fill="#e6e6e6" stroke="#222" stroke-width="0.75"/>
<line x1="650.20" y1="382.90" x2="650.20" y2="387.30" stroke="#222" stroke-width="0.8"/>
<line x1="657.60" y1="382.90" x2="657.60" y2="387.30" stroke="#222" stroke-width="0.8"/>
<text x="653.10" y="390.80" font-size="8.4" text-anchor="end" font-weight="normal" fill="#222" transform="rotate(-90 653.0999999999999 390.8)">Control</text>
<text x="660.50" y="390.80" font-size="8.4" text-anchor="end" font-weight="normal" fill="#222" transform="rotate(-90 660.4999999999999 390.8)">G13D</text>
<rect x="655.25" y="298.98" width="4.7" height="83.92" fill="#cfe0f8" stroke="#505a68" stroke-width="0.6"/>
<circle cx="657.60" cy="296.50" r="2.25" fill="#d2e2f8" stroke="#222" stroke-width="0.75"/>
<circle cx="657.60" cy="300.85" r="2.25" fill="#d2e2f8" stroke="#222" stroke-width="0.75"/>
<circle cx="650.20" cy="382.28" r="2.25" fill="#e6e6e6" stroke="#222" stroke-width="0.75"/>
<line x1="407.80" y1="597.60" x2="407.80" y2="445.60" stroke="#222" stroke-width="0.9"/>
<line x1="403.60" y1="597.60" x2="407.80" y2="597.60" stroke="#222" stroke-width="0.8"/>
<text x="0" y="0" font-size="8.1" text-anchor="end" font-weight="normal" fill="#222" transform="translate(400.40 600.50) scale(1.0 1.05)">0</text>
<line x1="403.60" y1="567.20" x2="407.80" y2="567.20" stroke="#222" stroke-width="0.8"/>
<text x="0" y="0" font-size="8.1" text-anchor="end" font-weight="normal" fill="#222" transform="translate(400.40 570.10) scale(1.0 1.05)">1000</text>
<line x1="403.60" y1="536.80" x2="407.80" y2="536.80" stroke="#222" stroke-width="0.8"/>
<text x="0" y="0" font-size="8.1" text-anchor="end" font-weight="normal" fill="#222" transform="translate(400.40 539.70) scale(1.0 1.05)">2000</text>
<line x1="403.60" y1="506.40" x2="407.80" y2="506.40" stroke="#222" stroke-width="0.8"/>
<text x="0" y="0" font-size="8.1" text-anchor="end" font-weight="normal" fill="#222" transform="translate(400.40 509.30) scale(1.0 1.05)">3000</text>
<line x1="403.60" y1="476.00" x2="407.80" y2="476.00" stroke="#222" stroke-width="0.8"/>
<text x="0" y="0" font-size="8.1" text-anchor="end" font-weight="normal" fill="#222" transform="translate(400.40 478.90) scale(1.0 1.05)">4000</text>
<line x1="403.60" y1="445.60" x2="407.80" y2="445.60" stroke="#222" stroke-width="0.8"/>
<text x="0" y="0" font-size="8.1" text-anchor="end" font-weight="normal" fill="#222" transform="translate(400.40 448.50) scale(1.0 1.05)">5000</text>
<line x1="407.80" y1="597.60" x2="509.80" y2="597.60" stroke="#222" stroke-width="0.9"/>
<text x="455.90" y="444.00" font-size="10.4" text-anchor="middle" font-weight="normal" fill="#222">J1994_2</text>
<text x="0" y="0" font-size="7.6" text-anchor="middle" font-weight="normal" fill="#222" transform="translate(377.60 519.20) rotate(-90) scale(1.02 1.0)"># IFN<tspan font-size="5.6" dy="1">γ</tspan><tspan dy="-1"> spots per 1x10</tspan><tspan font-size="5.0" dy="-3">6</tspan><tspan dy="3"> PBMCs</tspan></text>
<line x1="412.60" y1="597.60" x2="412.60" y2="602.00" stroke="#222" stroke-width="0.8"/>
<line x1="419.80" y1="597.60" x2="419.80" y2="602.00" stroke="#222" stroke-width="0.8"/>
<text x="415.50" y="605.60" font-size="8.4" text-anchor="end" font-weight="normal" fill="#222" transform="rotate(-90 415.5 605.6)">Control</text>
<text x="422.70" y="605.60" font-size="8.4" text-anchor="end" font-weight="normal" fill="#222" transform="rotate(-90 422.7 605.6)">G12V</text>
<rect x="417.45" y="595.78" width="4.7" height="1.82" fill="#f2b642" stroke="#6b5020" stroke-width="0.6"/>
<circle cx="419.80" cy="595.47" r="2.25" fill="#f2ac2a" stroke="#222" stroke-width="0.75"/>
<circle cx="412.60" cy="596.99" r="2.25" fill="#e6e6e6" stroke="#222" stroke-width="0.75"/>
<line x1="429.50" y1="597.60" x2="429.50" y2="602.00" stroke="#222" stroke-width="0.8"/>
<line x1="436.70" y1="597.60" x2="436.70" y2="602.00" stroke="#222" stroke-width="0.8"/>
<text x="432.40" y="605.60" font-size="8.4" text-anchor="end" font-weight="normal" fill="#222" transform="rotate(-90 432.4 605.6)">Control</text>
<text x="439.60" y="605.60" font-size="8.4" text-anchor="end" font-weight="normal" fill="#222" transform="rotate(-90 439.59999999999997 605.6)">G12A</text>
<rect x="434.35" y="596.38" width="4.7" height="1.22" fill="#e08a50" stroke="#5a3520" stroke-width="0.6"/>
<circle cx="436.70" cy="596.08" r="2.25" fill="#e06a28" stroke="#222" stroke-width="0.75"/>
<circle cx="429.50" cy="596.99" r="2.25" fill="#e6e6e6" stroke="#222" stroke-width="0.75"/>
<line x1="446.40" y1="597.60" x2="446.40" y2="602.00" stroke="#222" stroke-width="0.8"/>
<line x1="453.60" y1="597.60" x2="453.60" y2="602.00" stroke="#222" stroke-width="0.8"/>
<text x="449.30" y="605.60" font-size="8.4" text-anchor="end" font-weight="normal" fill="#222" transform="rotate(-90 449.3 605.6)">Control</text>
<text x="456.50" y="605.60" font-size="8.4" text-anchor="end" font-weight="normal" fill="#222" transform="rotate(-90 456.5 605.6)">G12R</text>
<rect x="451.25" y="570.85" width="4.7" height="26.75" fill="#9a4a40" stroke="#3a1a16" stroke-width="0.6"/>
<rect x="451.25" y="570.85" width="4.7" height="6.99" fill="#000" fill-opacity="0.22"/>
<line x1="453.60" y1="562.34" x2="453.60" y2="577.84" stroke="#333" stroke-width="0.8"/>
<line x1="451.80" y1="562.34" x2="455.40" y2="562.34" stroke="#333" stroke-width="0.8"/>
<line x1="451.80" y1="577.84" x2="455.40" y2="577.84" stroke="#333" stroke-width="0.8"/>
<circle cx="453.60" cy="563.25" r="2.25" fill="#8a1a14" stroke="#222" stroke-width="0.75"/>
<circle cx="453.60" cy="564.77" r="2.25" fill="#8a1a14" stroke="#222" stroke-width="0.75"/>
<circle cx="453.60" cy="577.84" r="2.25" fill="#8a1a14" stroke="#222" stroke-width="0.75"/>
<circle cx="446.40" cy="596.99" r="2.25" fill="#e6e6e6" stroke="#222" stroke-width="0.75"/>
<line x1="463.30" y1="597.60" x2="463.30" y2="602.00" stroke="#222" stroke-width="0.8"/>
<line x1="470.50" y1="597.60" x2="470.50" y2="602.00" stroke="#222" stroke-width="0.8"/>
<text x="466.20" y="605.60" font-size="8.4" text-anchor="end" font-weight="normal" fill="#222" transform="rotate(-90 466.2 605.6)">Control</text>
<text x="473.40" y="605.60" font-size="8.4" text-anchor="end" font-weight="normal" fill="#222" transform="rotate(-90 473.4 605.6)">G12C</text>
<rect x="468.15" y="595.78" width="4.7" height="1.82" fill="#a868cc" stroke="#402850" stroke-width="0.6"/>
<circle cx="470.50" cy="595.47" r="2.25" fill="#a050c8" stroke="#222" stroke-width="0.75"/>
<circle cx="463.30" cy="596.99" r="2.25" fill="#e6e6e6" stroke="#222" stroke-width="0.75"/>
<line x1="480.20" y1="597.60" x2="480.20" y2="602.00" stroke="#222" stroke-width="0.8"/>
<line x1="487.40" y1="597.60" x2="487.40" y2="602.00" stroke="#222" stroke-width="0.8"/>
<text x="483.10" y="605.60" font-size="8.4" text-anchor="end" font-weight="normal" fill="#222" transform="rotate(-90 483.1 605.6)">Control</text>
<text x="490.30" y="605.60" font-size="8.4" text-anchor="end" font-weight="normal" fill="#222" transform="rotate(-90 490.3 605.6)">G12D</text>
<rect x="485.05" y="595.17" width="4.7" height="2.43" fill="#a4aae8" stroke="#404870" stroke-width="0.6"/>
<circle cx="487.40" cy="594.86" r="2.25" fill="#98a2e6" stroke="#222" stroke-width="0.75"/>
<circle cx="480.20" cy="596.99" r="2.25" fill="#e6e6e6" stroke="#222" stroke-width="0.75"/>
<line x1="497.10" y1="597.60" x2="497.10" y2="602.00" stroke="#222" stroke-width="0.8"/>
<line x1="504.30" y1="597.60" x2="504.30" y2="602.00" stroke="#222" stroke-width="0.8"/>
<text x="500.00" y="605.60" font-size="8.4" text-anchor="end" font-weight="normal" fill="#222" transform="rotate(-90 500.0 605.6)">Control</text>
<text x="507.20" y="605.60" font-size="8.4" text-anchor="end" font-weight="normal" fill="#222" transform="rotate(-90 507.2 605.6)">G13D</text>
<rect x="501.95" y="595.78" width="4.7" height="1.82" fill="#cfe0f8" stroke="#505a68" stroke-width="0.6"/>
<circle cx="504.30" cy="595.17" r="2.25" fill="#d2e2f8" stroke="#222" stroke-width="0.75"/>
<circle cx="497.10" cy="596.99" r="2.25" fill="#e6e6e6" stroke="#222" stroke-width="0.75"/>
<line x1="557.50" y1="599.20" x2="557.50" y2="446.20" stroke="#222" stroke-width="0.9"/>
<line x1="553.30" y1="599.20" x2="557.50" y2="599.20" stroke="#222" stroke-width="0.8"/>
<text x="0" y="0" font-size="8.1" text-anchor="end" font-weight="normal" fill="#222" transform="translate(550.10 602.10) scale(1.0 1.05)">0</text>
<line x1="553.30" y1="568.60" x2="557.50" y2="568.60" stroke="#222" stroke-width="0.8"/>
<text x="0" y="0" font-size="8.1" text-anchor="end" font-weight="normal" fill="#222" transform="translate(550.10 571.50) scale(1.0 1.05)">1000</text>
<line x1="553.30" y1="538.00" x2="557.50" y2="538.00" stroke="#222" stroke-width="0.8"/>
<text x="0" y="0" font-size="8.1" text-anchor="end" font-weight="normal" fill="#222" transform="translate(550.10 540.90) scale(1.0 1.05)">2000</text>
<line x1="553.30" y1="507.40" x2="557.50" y2="507.40" stroke="#222" stroke-width="0.8"/>
<text x="0" y="0" font-size="8.1" text-anchor="end" font-weight="normal" fill="#222" transform="translate(550.10 510.30) scale(1.0 1.05)">3000</text>
<line x1="553.30" y1="476.80" x2="557.50" y2="476.80" stroke="#222" stroke-width="0.8"/>
<text x="0" y="0" font-size="8.1" text-anchor="end" font-weight="normal" fill="#222" transform="translate(550.10 479.70) scale(1.0 1.05)">4000</text>
<line x1="553.30" y1="446.20" x2="557.50" y2="446.20" stroke="#222" stroke-width="0.8"/>
<text x="0" y="0" font-size="8.1" text-anchor="end" font-weight="normal" fill="#222" transform="translate(550.10 449.10) scale(1.0 1.05)">5000</text>
<line x1="557.50" y1="599.20" x2="660.30" y2="599.20" stroke="#222" stroke-width="0.9"/>
<text x="607.40" y="444.00" font-size="10.4" text-anchor="middle" font-weight="normal" fill="#222">J1994_14</text>
<text x="0" y="0" font-size="7.6" text-anchor="middle" font-weight="normal" fill="#222" transform="translate(525.60 520.30) rotate(-90) scale(1.02 1.0)"># IFN<tspan font-size="5.6" dy="1">γ</tspan><tspan dy="-1"> spots per 1x10</tspan><tspan font-size="5.0" dy="-3">6</tspan><tspan dy="3"> PBMCs</tspan></text>
<line x1="562.60" y1="599.20" x2="562.60" y2="603.60" stroke="#222" stroke-width="0.8"/>
<line x1="569.90" y1="599.20" x2="569.90" y2="603.60" stroke="#222" stroke-width="0.8"/>
<text x="565.50" y="607.30" font-size="8.4" text-anchor="end" font-weight="normal" fill="#222" transform="rotate(-90 565.5 607.3)">Control</text>
<text x="572.80" y="607.30" font-size="8.4" text-anchor="end" font-weight="normal" fill="#222" transform="rotate(-90 572.8 607.3)">G12V</text>
<rect x="567.55" y="483.53" width="4.7" height="115.67" fill="#f2b642" stroke="#6b5020" stroke-width="0.6"/>
<rect x="567.55" y="483.53" width="4.7" height="16.22" fill="#000" fill-opacity="0.22"/>
<line x1="569.90" y1="466.09" x2="569.90" y2="499.75" stroke="#333" stroke-width="0.8"/>
<line x1="568.10" y1="466.09" x2="571.70" y2="466.09" stroke="#333" stroke-width="0.8"/>
<line x1="568.10" y1="499.75" x2="571.70" y2="499.75" stroke="#333" stroke-width="0.8"/>
<circle cx="569.90" cy="471.29" r="2.25" fill="#f2ac2a" stroke="#222" stroke-width="0.75"/>
<circle cx="569.90" cy="495.77" r="2.25" fill="#f2ac2a" stroke="#222" stroke-width="0.75"/>
<circle cx="562.60" cy="598.59" r="2.25" fill="#e6e6e6" stroke="#222" stroke-width="0.75"/>
<line x1="579.70" y1="599.20" x2="579.70" y2="603.60" stroke="#222" stroke-width="0.8"/>
<line x1="587.00" y1="599.20" x2="587.00" y2="603.60" stroke="#222" stroke-width="0.8"/>
<text x="582.60" y="607.30" font-size="8.4" text-anchor="end" font-weight="normal" fill="#222" transform="rotate(-90 582.6 607.3)">Control</text>
<text x="589.90" y="607.30" font-size="8.4" text-anchor="end" font-weight="normal" fill="#222" transform="rotate(-90 589.9 607.3)">G12A</text>
<rect x="584.65" y="562.48" width="4.7" height="36.72" fill="#e08a50" stroke="#5a3520" stroke-width="0.6"/>
<circle cx="587.00" cy="559.11" r="2.25" fill="#e06a28" stroke="#222" stroke-width="0.75"/>
<circle cx="587.00" cy="562.48" r="2.25" fill="#e06a28" stroke="#222" stroke-width="0.75"/>
<circle cx="579.70" cy="598.59" r="2.25" fill="#e6e6e6" stroke="#222" stroke-width="0.75"/>
<line x1="596.80" y1="599.20" x2="596.80" y2="603.60" stroke="#222" stroke-width="0.8"/>
<line x1="604.10" y1="599.20" x2="604.10" y2="603.60" stroke="#222" stroke-width="0.8"/>
<text x="599.70" y="607.30" font-size="8.4" text-anchor="end" font-weight="normal" fill="#222" transform="rotate(-90 599.7 607.3)">Control</text>
<text x="607.00" y="607.30" font-size="8.4" text-anchor="end" font-weight="normal" fill="#222" transform="rotate(-90 607.0 607.3)">G12R</text>
<rect x="601.75" y="550.24" width="4.7" height="48.96" fill="#9a4a40" stroke="#3a1a16" stroke-width="0.6"/>
<rect x="601.75" y="550.24" width="4.7" height="6.12" fill="#000" fill-opacity="0.22"/>
<line x1="604.10" y1="550.24" x2="604.10" y2="556.36" stroke="#333" stroke-width="0.8"/>
<line x1="602.30" y1="550.24" x2="605.90" y2="550.24" stroke="#333" stroke-width="0.8"/>
<line x1="602.30" y1="556.36" x2="605.90" y2="556.36" stroke="#333" stroke-width="0.8"/>
<circle cx="604.10" cy="543.51" r="2.25" fill="#8a1a14" stroke="#222" stroke-width="0.75"/>
<circle cx="604.10" cy="554.83" r="2.25" fill="#8a1a14" stroke="#222" stroke-width="0.75"/>
<circle cx="596.80" cy="598.59" r="2.25" fill="#e6e6e6" stroke="#222" stroke-width="0.75"/>
<line x1="613.90" y1="599.20" x2="613.90" y2="603.60" stroke="#222" stroke-width="0.8"/>
<line x1="621.20" y1="599.20" x2="621.20" y2="603.60" stroke="#222" stroke-width="0.8"/>
<text x="616.80" y="607.30" font-size="8.4" text-anchor="end" font-weight="normal" fill="#222" transform="rotate(-90 616.8 607.3)">Control</text>
<text x="624.10" y="607.30" font-size="8.4" text-anchor="end" font-weight="normal" fill="#222" transform="rotate(-90 624.0999999999999 607.3)">G12C</text>
<rect x="618.85" y="596.14" width="4.7" height="3.06" fill="#a868cc" stroke="#402850" stroke-width="0.6"/>
<circle cx="621.20" cy="595.22" r="2.25" fill="#a050c8" stroke="#222" stroke-width="0.75"/>
<circle cx="621.20" cy="596.45" r="2.25" fill="#a050c8" stroke="#222" stroke-width="0.75"/>
<circle cx="613.90" cy="598.59" r="2.25" fill="#e6e6e6" stroke="#222" stroke-width="0.75"/>
<line x1="631.00" y1="599.20" x2="631.00" y2="603.60" stroke="#222" stroke-width="0.8"/>
<line x1="638.30" y1="599.20" x2="638.30" y2="603.60" stroke="#222" stroke-width="0.8"/>
<text x="633.90" y="607.30" font-size="8.4" text-anchor="end" font-weight="normal" fill="#222" transform="rotate(-90 633.9 607.3)">Control</text>
<text x="641.20" y="607.30" font-size="8.4" text-anchor="end" font-weight="normal" fill="#222" transform="rotate(-90 641.1999999999999 607.3)">G12D</text>
<rect x="635.95" y="598.28" width="4.7" height="0.92" fill="#a4aae8" stroke="#404870" stroke-width="0.6"/>
<circle cx="638.30" cy="598.28" r="2.25" fill="#98a2e6" stroke="#222" stroke-width="0.75"/>
<circle cx="631.00" cy="598.59" r="2.25" fill="#e6e6e6" stroke="#222" stroke-width="0.75"/>
<line x1="648.10" y1="599.20" x2="648.10" y2="603.60" stroke="#222" stroke-width="0.8"/>
<line x1="655.40" y1="599.20" x2="655.40" y2="603.60" stroke="#222" stroke-width="0.8"/>
<text x="651.00" y="607.30" font-size="8.4" text-anchor="end" font-weight="normal" fill="#222" transform="rotate(-90 651.0 607.3)">Control</text>
<text x="658.30" y="607.30" font-size="8.4" text-anchor="end" font-weight="normal" fill="#222" transform="rotate(-90 658.3 607.3)">G13D</text>
<rect x="653.05" y="559.42" width="4.7" height="39.78" fill="#cfe0f8" stroke="#505a68" stroke-width="0.6"/>
<circle cx="655.40" cy="556.97" r="2.25" fill="#d2e2f8" stroke="#222" stroke-width="0.75"/>
<circle cx="655.40" cy="560.03" r="2.25" fill="#d2e2f8" stroke="#222" stroke-width="0.75"/>
<circle cx="648.10" cy="598.59" r="2.25" fill="#e6e6e6" stroke="#222" stroke-width="0.75"/>
<rect x="34.70" y="412.20" width="16.12" height="12.16" fill="#ffffff"/>
<rect x="50.52" y="412.20" width="16.12" height="12.16" fill="#ffffff"/>
<rect x="66.33" y="412.20" width="16.12" height="12.16" fill="#ffffff"/>
<rect x="82.15" y="412.20" width="16.12" height="12.16" fill="#ffffff"/>
<rect x="97.97" y="412.20" width="16.12" height="12.16" fill="#faf6f6"/>
<rect x="113.78" y="412.20" width="16.12" height="12.16" fill="#f0dcdc"/>
<rect x="34.70" y="424.06" width="16.12" height="12.16" fill="#ffffff"/>
<rect x="50.52" y="424.06" width="16.12" height="12.16" fill="#ffffff"/>
<rect x="66.33" y="424.06" width="16.12" height="12.16" fill="#fdfbfb"/>
<rect x="82.15" y="424.06" width="16.12" height="12.16" fill="#ffffff"/>
<rect x="97.97" y="424.06" width="16.12" height="12.16" fill="#fbf7f7"/>
<rect x="113.78" y="424.06" width="16.12" height="12.16" fill="#ebd1d1"/>
<rect x="34.70" y="435.93" width="16.12" height="12.16" fill="#8e1e1e"/>
<rect x="50.52" y="435.93" width="16.12" height="12.16" fill="#7d0000"/>
<rect x="66.33" y="435.93" width="16.12" height="12.16" fill="#ffffff"/>
<rect x="82.15" y="435.93" width="16.12" height="12.16" fill="#edd6d6"/>
<rect x="97.97" y="435.93" width="16.12" height="12.16" fill="#fbf7f7"/>
<rect x="113.78" y="435.93" width="16.12" height="12.16" fill="#efdbdb"/>
<rect x="34.70" y="447.79" width="16.12" height="12.16" fill="#ddb6b6"/>
<rect x="50.52" y="447.79" width="16.12" height="12.16" fill="#dab0b0"/>
<rect x="66.33" y="447.79" width="16.12" height="12.16" fill="#ffffff"/>
<rect x="82.15" y="447.79" width="16.12" height="12.16" fill="#f3e6e6"/>
<rect x="97.97" y="447.79" width="16.12" height="12.16" fill="#faf6f6"/>
<rect x="113.78" y="447.79" width="16.12" height="12.16" fill="#ead0d0"/>
<rect x="34.70" y="459.65" width="16.12" height="12.16" fill="#e4c7c7"/>
<rect x="50.52" y="459.65" width="16.12" height="12.16" fill="#d9aeae"/>
<rect x="66.33" y="459.65" width="16.12" height="12.16" fill="#ffffff"/>
<rect x="82.15" y="459.65" width="16.12" height="12.16" fill="#f5e9e9"/>
<rect x="97.97" y="459.65" width="16.12" height="12.16" fill="#faf6f6"/>
<rect x="113.78" y="459.65" width="16.12" height="12.16" fill="#ecd4d4"/>
<rect x="34.70" y="471.51" width="16.12" height="12.16" fill="#c48282"/>
<rect x="50.52" y="471.51" width="16.12" height="12.16" fill="#b25959"/>
<rect x="66.33" y="471.51" width="16.12" height="12.16" fill="#ffffff"/>
<rect x="82.15" y="471.51" width="16.12" height="12.16" fill="#ecd4d4"/>
<rect x="97.97" y="471.51" width="16.12" height="12.16" fill="#faf6f6"/>
<rect x="113.78" y="471.51" width="16.12" height="12.16" fill="#eed8d8"/>
<rect x="34.70" y="483.38" width="16.12" height="12.16" fill="#fbf7f7"/>
<rect x="50.52" y="483.38" width="16.12" height="12.16" fill="#f9f3f3"/>
<rect x="66.33" y="483.38" width="16.12" height="12.16" fill="#ffffff"/>
<rect x="82.15" y="483.38" width="16.12" height="12.16" fill="#ffffff"/>
<rect x="97.97" y="483.38" width="16.12" height="12.16" fill="#faf6f6"/>
<rect x="113.78" y="483.38" width="16.12" height="12.16" fill="#eed8d8"/>
<rect x="34.70" y="495.24" width="16.12" height="12.16" fill="#f6ecec"/>
<rect x="50.52" y="495.24" width="16.12" height="12.16" fill="#f7efef"/>
<rect x="66.33" y="495.24" width="16.12" height="12.16" fill="#ffffff"/>
<rect x="82.15" y="495.24" width="16.12" height="12.16" fill="#ffffff"/>
<rect x="97.97" y="495.24" width="16.12" height="12.16" fill="#faf6f6"/>
<rect x="113.78" y="495.24" width="16.12" height="12.16" fill="#ecd3d3"/>
<rect x="34.70" y="412.20" width="94.90" height="94.90" fill="none" stroke="#222" stroke-width="1"/>
<line x1="31.10" y1="418.13" x2="34.70" y2="418.13" stroke="#222" stroke-width="0.9"/>
<text x="0" y="0" font-size="7.4" text-anchor="end" font-weight="normal" fill="#222" transform="translate(29.50 420.93) scale(1.0 1.12)">Unstim</text>
<line x1="31.10" y1="429.99" x2="34.70" y2="429.99" stroke="#222" stroke-width="0.9"/>
<text x="0" y="0" font-size="7.4" text-anchor="end" font-weight="normal" fill="#222" transform="translate(29.50 432.79) scale(1.0 1.12)">Control</text>
<line x1="31.10" y1="441.86" x2="34.70" y2="441.86" stroke="#222" stroke-width="0.9"/>
<text x="0" y="0" font-size="7.4" text-anchor="end" font-weight="normal" fill="#222" transform="translate(29.50 444.66) scale(1.0 1.12)">G12V</text>
<line x1="31.10" y1="453.72" x2="34.70" y2="453.72" stroke="#222" stroke-width="0.9"/>
<text x="0" y="0" font-size="7.4" text-anchor="end" font-weight="normal" fill="#222" transform="translate(29.50 456.52) scale(1.0 1.12)">G12A</text>
<line x1="31.10" y1="465.58" x2="34.70" y2="465.58" stroke="#222" stroke-width="0.9"/>
<text x="0" y="0" font-size="7.4" text-anchor="end" font-weight="normal" fill="#222" transform="translate(29.50 468.38) scale(1.0 1.12)">G12R</text>
<line x1="31.10" y1="477.44" x2="34.70" y2="477.44" stroke="#222" stroke-width="0.9"/>
<text x="0" y="0" font-size="7.4" text-anchor="end" font-weight="normal" fill="#222" transform="translate(29.50 480.24) scale(1.0 1.12)">G12C</text>
<line x1="31.10" y1="489.31" x2="34.70" y2="489.31" stroke="#222" stroke-width="0.9"/>
<text x="0" y="0" font-size="7.4" text-anchor="end" font-weight="normal" fill="#222" transform="translate(29.50 492.11) scale(1.0 1.12)">G12D</text>
<line x1="31.10" y1="501.17" x2="34.70" y2="501.17" stroke="#222" stroke-width="0.9"/>
<text x="0" y="0" font-size="7.4" text-anchor="end" font-weight="normal" fill="#222" transform="translate(29.50 503.97) scale(1.0 1.12)">G13D</text>
<line x1="42.61" y1="507.10" x2="42.61" y2="511.10" stroke="#222" stroke-width="0.9"/>
<text x="0" y="0" font-size="7.4" text-anchor="end" font-weight="normal" fill="#222" transform="translate(45.31 512.10) rotate(-90) scale(0.96 1.0)">IFNγ</text>
<line x1="58.42" y1="507.10" x2="58.42" y2="511.10" stroke="#222" stroke-width="0.9"/>
<text x="0" y="0" font-size="7.4" text-anchor="end" font-weight="normal" fill="#222" transform="translate(61.12 512.10) rotate(-90) scale(0.96 1.0)">IL-2</text>
<line x1="74.24" y1="507.10" x2="74.24" y2="511.10" stroke="#222" stroke-width="0.9"/>
<text x="0" y="0" font-size="7.4" text-anchor="end" font-weight="normal" fill="#222" transform="translate(76.94 512.10) rotate(-90) scale(0.96 1.0)">IL-4</text>
<line x1="90.06" y1="507.10" x2="90.06" y2="511.10" stroke="#222" stroke-width="0.9"/>
<text x="0" y="0" font-size="7.4" text-anchor="end" font-weight="normal" fill="#222" transform="translate(92.76 512.10) rotate(-90) scale(0.96 1.0)">IL-5</text>
<line x1="105.88" y1="507.10" x2="105.88" y2="511.10" stroke="#222" stroke-width="0.9"/>
<text x="0" y="0" font-size="7.4" text-anchor="end" font-weight="normal" fill="#222" transform="translate(108.58 512.10) rotate(-90) scale(0.96 1.0)">IL-17A</text>
<line x1="121.69" y1="507.10" x2="121.69" y2="511.10" stroke="#222" stroke-width="0.9"/>
<text x="0" y="0" font-size="7.4" text-anchor="end" font-weight="normal" fill="#222" transform="translate(124.39 512.10) rotate(-90) scale(0.96 1.0)">IL-10</text>
<text x="86.00" y="407.40" font-size="9.5" text-anchor="middle" font-weight="normal" fill="#222">J1994_5</text>
<linearGradient id="g34412" x1="0" y1="1" x2="0" y2="0"><stop offset="0" stop-color="#ffffff"/><stop offset="0.5" stop-color="#c98a8a"/><stop offset="1" stop-color="#7a0000"/></linearGradient>
<rect x="141.60" y="412.20" width="11.80" height="94.90" fill="url(#g34412)" stroke="#222" stroke-width="1"/>
<line x1="151.20" y1="507.10" x2="153.40" y2="507.10" stroke="#222" stroke-width="0.9"/>
<line x1="141.60" y1="507.10" x2="143.80" y2="507.10" stroke="#222" stroke-width="0.9"/>
<text x="0" y="0" font-size="7.8" text-anchor="start" font-weight="normal" fill="#222" transform="translate(158.00 510.10) scale(1.0 1.1)">0</text>
<line x1="151.20" y1="486.74" x2="153.40" y2="486.74" stroke="#222" stroke-width="0.9"/>
<line x1="141.60" y1="486.74" x2="143.80" y2="486.74" stroke="#222" stroke-width="0.9"/>
<text x="0" y="0" font-size="7.8" text-anchor="start" font-weight="normal" fill="#222" transform="translate(158.00 489.74) scale(1.0 1.1)">50</text>
<line x1="151.20" y1="466.37" x2="153.40" y2="466.37" stroke="#222" stroke-width="0.9"/>
<line x1="141.60" y1="466.37" x2="143.80" y2="466.37" stroke="#222" stroke-width="0.9"/>
<text x="0" y="0" font-size="7.8" text-anchor="start" font-weight="normal" fill="#222" transform="translate(158.00 469.37) scale(1.0 1.1)">100</text>
<line x1="151.20" y1="446.01" x2="153.40" y2="446.01" stroke="#222" stroke-width="0.9"/>
<line x1="141.60" y1="446.01" x2="143.80" y2="446.01" stroke="#222" stroke-width="0.9"/>
<text x="0" y="0" font-size="7.8" text-anchor="start" font-weight="normal" fill="#222" transform="translate(158.00 449.01) scale(1.0 1.1)">150</text>
<line x1="151.20" y1="425.64" x2="153.40" y2="425.64" stroke="#222" stroke-width="0.9"/>
<line x1="141.60" y1="425.64" x2="143.80" y2="425.64" stroke="#222" stroke-width="0.9"/>
<text x="0" y="0" font-size="7.8" text-anchor="start" font-weight="normal" fill="#222" transform="translate(158.00 428.64) scale(1.0 1.1)">200</text>
<text x="0" y="0" font-size="7.6" text-anchor="middle" font-weight="normal" fill="#222" transform="translate(168.00 407.70) scale(1.0 1.1)">pg/mL</text>
<rect x="215.50" y="411.30" width="15.80" height="11.82" fill="#faf6f5"/>
<rect x="231.00" y="411.30" width="15.80" height="11.82" fill="#f3e3e3"/>
<rect x="246.50" y="411.30" width="15.80" height="11.82" fill="#fdfbfb"/>
<rect x="262.00" y="411.30" width="15.80" height="11.82" fill="#ffffff"/>
<rect x="277.50" y="411.30" width="15.80" height="11.82" fill="#ffffff"/>
<rect x="293.00" y="411.30" width="15.80" height="11.82" fill="#7d0000"/>
<rect x="215.50" y="422.82" width="15.80" height="11.82" fill="#ffffff"/>
<rect x="231.00" y="422.82" width="15.80" height="11.82" fill="#fdfbfb"/>
<rect x="246.50" y="422.82" width="15.80" height="11.82" fill="#ffffff"/>
<rect x="262.00" y="422.82" width="15.80" height="11.82" fill="#ffffff"/>
<rect x="277.50" y="422.82" width="15.80" height="11.82" fill="#ffffff"/>
<rect x="293.00" y="422.82" width="15.80" height="11.82" fill="#c98a8a"/>
<rect x="215.50" y="434.35" width="15.80" height="11.82" fill="#d9a9a9"/>
<rect x="231.00" y="434.35" width="15.80" height="11.82" fill="#a84848"/>
<rect x="246.50" y="434.35" width="15.80" height="11.82" fill="#fdfbfb"/>
<rect x="262.00" y="434.35" width="15.80" height="11.82" fill="#ecd3d3"/>
<rect x="277.50" y="434.35" width="15.80" height="11.82" fill="#ffffff"/>
<rect x="293.00" y="434.35" width="15.80" height="11.82" fill="#b86a6a"/>
<rect x="215.50" y="445.88" width="15.80" height="11.82" fill="#ead0d0"/>
<rect x="231.00" y="445.88" width="15.80" height="11.82" fill="#ddb3b3"/>
<rect x="246.50" y="445.88" width="15.80" height="11.82" fill="#ffffff"/>
<rect x="262.00" y="445.88" width="15.80" height="11.82" fill="#f4e6e6"/>
<rect x="277.50" y="445.88" width="15.80" height="11.82" fill="#ffffff"/>
<rect x="293.00" y="445.88" width="15.80" height="11.82" fill="#b25e5e"/>
<rect x="215.50" y="457.40" width="15.80" height="11.82" fill="#e4c5c5"/>
<rect x="231.00" y="457.40" width="15.80" height="11.82" fill="#c68585"/>
<rect x="246.50" y="457.40" width="15.80" height="11.82" fill="#ffffff"/>
<rect x="262.00" y="457.40" width="15.80" height="11.82" fill="#eed8d8"/>
<rect x="277.50" y="457.40" width="15.80" height="11.82" fill="#ffffff"/>
<rect x="293.00" y="457.40" width="15.80" height="11.82" fill="#bf7777"/>
<rect x="215.50" y="468.93" width="15.80" height="11.82" fill="#ecd5d5"/>
<rect x="231.00" y="468.93" width="15.80" height="11.82" fill="#e2bfbf"/>
<rect x="246.50" y="468.93" width="15.80" height="11.82" fill="#ffffff"/>
<rect x="262.00" y="468.93" width="15.80" height="11.82" fill="#f7eded"/>
<rect x="277.50" y="468.93" width="15.80" height="11.82" fill="#ffffff"/>
<rect x="293.00" y="468.93" width="15.80" height="11.82" fill="#952a2a"/>
<rect x="215.50" y="480.45" width="15.80" height="11.82" fill="#ffffff"/>
<rect x="231.00" y="480.45" width="15.80" height="11.82" fill="#faf2f2"/>
<rect x="246.50" y="480.45" width="15.80" height="11.82" fill="#ffffff"/>
<rect x="262.00" y="480.45" width="15.80" height="11.82" fill="#ffffff"/>
<rect x="277.50" y="480.45" width="15.80" height="11.82" fill="#ffffff"/>
<rect x="293.00" y="480.45" width="15.80" height="11.82" fill="#c07878"/>
<rect x="215.50" y="491.98" width="15.80" height="11.82" fill="#f3e3e3"/>
<rect x="231.00" y="491.98" width="15.80" height="11.82" fill="#e0bcbc"/>
<rect x="246.50" y="491.98" width="15.80" height="11.82" fill="#ffffff"/>
<rect x="262.00" y="491.98" width="15.80" height="11.82" fill="#fcf9f9"/>
<rect x="277.50" y="491.98" width="15.80" height="11.82" fill="#ffffff"/>
<rect x="293.00" y="491.98" width="15.80" height="11.82" fill="#b66767"/>
<rect x="215.50" y="411.30" width="93.00" height="92.20" fill="none" stroke="#222" stroke-width="1"/>
<line x1="211.90" y1="417.06" x2="215.50" y2="417.06" stroke="#222" stroke-width="0.9"/>
<text x="0" y="0" font-size="7.4" text-anchor="end" font-weight="normal" fill="#222" transform="translate(210.30 419.86) scale(1.0 1.12)">Unstim</text>
<line x1="211.90" y1="428.59" x2="215.50" y2="428.59" stroke="#222" stroke-width="0.9"/>
<text x="0" y="0" font-size="7.4" text-anchor="end" font-weight="normal" fill="#222" transform="translate(210.30 431.39) scale(1.0 1.12)">Control</text>
<line x1="211.90" y1="440.11" x2="215.50" y2="440.11" stroke="#222" stroke-width="0.9"/>
<text x="0" y="0" font-size="7.4" text-anchor="end" font-weight="normal" fill="#222" transform="translate(210.30 442.91) scale(1.0 1.12)">G12V</text>
<line x1="211.90" y1="451.64" x2="215.50" y2="451.64" stroke="#222" stroke-width="0.9"/>
<text x="0" y="0" font-size="7.4" text-anchor="end" font-weight="normal" fill="#222" transform="translate(210.30 454.44) scale(1.0 1.12)">G12A</text>
<line x1="211.90" y1="463.16" x2="215.50" y2="463.16" stroke="#222" stroke-width="0.9"/>
<text x="0" y="0" font-size="7.4" text-anchor="end" font-weight="normal" fill="#222" transform="translate(210.30 465.96) scale(1.0 1.12)">G12R</text>
<line x1="211.90" y1="474.69" x2="215.50" y2="474.69" stroke="#222" stroke-width="0.9"/>
<text x="0" y="0" font-size="7.4" text-anchor="end" font-weight="normal" fill="#222" transform="translate(210.30 477.49) scale(1.0 1.12)">G12C</text>
<line x1="211.90" y1="486.21" x2="215.50" y2="486.21" stroke="#222" stroke-width="0.9"/>
<text x="0" y="0" font-size="7.4" text-anchor="end" font-weight="normal" fill="#222" transform="translate(210.30 489.01) scale(1.0 1.12)">G12D</text>
<line x1="211.90" y1="497.74" x2="215.50" y2="497.74" stroke="#222" stroke-width="0.9"/>
<text x="0" y="0" font-size="7.4" text-anchor="end" font-weight="normal" fill="#222" transform="translate(210.30 500.54) scale(1.0 1.12)">G13D</text>
<line x1="223.25" y1="503.50" x2="223.25" y2="507.50" stroke="#222" stroke-width="0.9"/>
<text x="0" y="0" font-size="7.4" text-anchor="end" font-weight="normal" fill="#222" transform="translate(225.95 508.50) rotate(-90) scale(0.96 1.0)">IFNγ</text>
<line x1="238.75" y1="503.50" x2="238.75" y2="507.50" stroke="#222" stroke-width="0.9"/>
<text x="0" y="0" font-size="7.4" text-anchor="end" font-weight="normal" fill="#222" transform="translate(241.45 508.50) rotate(-90) scale(0.96 1.0)">IL-2</text>
<line x1="254.25" y1="503.50" x2="254.25" y2="507.50" stroke="#222" stroke-width="0.9"/>
<text x="0" y="0" font-size="7.4" text-anchor="end" font-weight="normal" fill="#222" transform="translate(256.95 508.50) rotate(-90) scale(0.96 1.0)">IL-4</text>
<line x1="269.75" y1="503.50" x2="269.75" y2="507.50" stroke="#222" stroke-width="0.9"/>
<text x="0" y="0" font-size="7.4" text-anchor="end" font-weight="normal" fill="#222" transform="translate(272.45 508.50) rotate(-90) scale(0.96 1.0)">IL-5</text>
<line x1="285.25" y1="503.50" x2="285.25" y2="507.50" stroke="#222" stroke-width="0.9"/>
<text x="0" y="0" font-size="7.4" text-anchor="end" font-weight="normal" fill="#222" transform="translate(287.95 508.50) rotate(-90) scale(0.96 1.0)">IL-17A</text>
<line x1="300.75" y1="503.50" x2="300.75" y2="507.50" stroke="#222" stroke-width="0.9"/>
<text x="0" y="0" font-size="7.4" text-anchor="end" font-weight="normal" fill="#222" transform="translate(303.45 508.50) rotate(-90) scale(0.96 1.0)">IL-10</text>
<text x="262.00" y="407.40" font-size="9.5" text-anchor="middle" font-weight="normal" fill="#222">J1994_1</text>
<linearGradient id="g215411" x1="0" y1="1" x2="0" y2="0"><stop offset="0" stop-color="#ffffff"/><stop offset="0.5" stop-color="#c98a8a"/><stop offset="1" stop-color="#7a0000"/></linearGradient>
<rect x="319.80" y="411.30" width="11.00" height="92.20" fill="url(#g215411)" stroke="#222" stroke-width="1"/>
<line x1="328.60" y1="503.50" x2="330.80" y2="503.50" stroke="#222" stroke-width="0.9"/>
<line x1="319.80" y1="503.50" x2="322.00" y2="503.50" stroke="#222" stroke-width="0.9"/>
<text x="0" y="0" font-size="7.8" text-anchor="start" font-weight="normal" fill="#222" transform="translate(335.40 506.50) scale(1.0 1.1)">0</text>
<line x1="328.60" y1="457.40" x2="330.80" y2="457.40" stroke="#222" stroke-width="0.9"/>
<line x1="319.80" y1="457.40" x2="322.00" y2="457.40" stroke="#222" stroke-width="0.9"/>
<text x="0" y="0" font-size="7.8" text-anchor="start" font-weight="normal" fill="#222" transform="translate(335.40 460.40) scale(1.0 1.1)">50</text>
<line x1="328.60" y1="411.30" x2="330.80" y2="411.30" stroke="#222" stroke-width="0.9"/>
<line x1="319.80" y1="411.30" x2="322.00" y2="411.30" stroke="#222" stroke-width="0.9"/>
<text x="0" y="0" font-size="7.8" text-anchor="start" font-weight="normal" fill="#222" transform="translate(335.40 414.30) scale(1.0 1.1)">100</text>
<text x="0" y="0" font-size="7.6" text-anchor="middle" font-weight="normal" fill="#222" transform="translate(347.00 406.80) scale(1.0 1.1)">pg/mL</text>
<rect x="39.90" y="546.50" width="15.10" height="11.40" fill="#ffffff"/>
<rect x="54.70" y="546.50" width="15.10" height="11.40" fill="#fcf9f9"/>
<rect x="69.50" y="546.50" width="15.10" height="11.40" fill="#ffffff"/>
<rect x="84.30" y="546.50" width="15.10" height="11.40" fill="#ffffff"/>
<rect x="99.10" y="546.50" width="15.10" height="11.40" fill="#fbf8f8"/>
<rect x="113.90" y="546.50" width="15.10" height="11.40" fill="#efdcdc"/>
<rect x="39.90" y="557.60" width="15.10" height="11.40" fill="#ffffff"/>
<rect x="54.70" y="557.60" width="15.10" height="11.40" fill="#fcf9f9"/>
<rect x="69.50" y="557.60" width="15.10" height="11.40" fill="#ffffff"/>
<rect x="84.30" y="557.60" width="15.10" height="11.40" fill="#ffffff"/>
<rect x="99.10" y="557.60" width="15.10" height="11.40" fill="#fbf8f8"/>
<rect x="113.90" y="557.60" width="15.10" height="11.40" fill="#f2e2e2"/>
<rect x="39.90" y="568.70" width="15.10" height="11.40" fill="#f9f0f0"/>
<rect x="54.70" y="568.70" width="15.10" height="11.40" fill="#fbf5f5"/>
<rect x="69.50" y="568.70" width="15.10" height="11.40" fill="#ffffff"/>
<rect x="84.30" y="568.70" width="15.10" height="11.40" fill="#ffffff"/>
<rect x="99.10" y="568.70" width="15.10" height="11.40" fill="#fbf8f8"/>
<rect x="113.90" y="568.70" width="15.10" height="11.40" fill="#edd7d7"/>
<rect x="39.90" y="579.80" width="15.10" height="11.40" fill="#faf3f3"/>
<rect x="54.70" y="579.80" width="15.10" height="11.40" fill="#f9f2f2"/>
<rect x="69.50" y="579.80" width="15.10" height="11.40" fill="#ffffff"/>
<rect x="84.30" y="579.80" width="15.10" height="11.40" fill="#ffffff"/>
<rect x="99.10" y="579.80" width="15.10" height="11.40" fill="#fbf8f8"/>
<rect x="113.90" y="579.80" width="15.10" height="11.40" fill="#f1e1e1"/>
<rect x="39.90" y="590.90" width="15.10" height="11.40" fill="#850808"/>
<rect x="54.70" y="590.90" width="15.10" height="11.40" fill="#d39d9d"/>
<rect x="69.50" y="590.90" width="15.10" height="11.40" fill="#fcf9f9"/>
<rect x="84.30" y="590.90" width="15.10" height="11.40" fill="#f1e2e2"/>
<rect x="99.10" y="590.90" width="15.10" height="11.40" fill="#fbf8f8"/>
<rect x="113.90" y="590.90" width="15.10" height="11.40" fill="#e2c0c0"/>
<rect x="39.90" y="602.00" width="15.10" height="11.40" fill="#fbf6f6"/>
<rect x="54.70" y="602.00" width="15.10" height="11.40" fill="#f9f2f2"/>
<rect x="69.50" y="602.00" width="15.10" height="11.40" fill="#ffffff"/>
<rect x="84.30" y="602.00" width="15.10" height="11.40" fill="#ffffff"/>
<rect x="99.10" y="602.00" width="15.10" height="11.40" fill="#fbf8f8"/>
<rect x="113.90" y="602.00" width="15.10" height="11.40" fill="#f1e1e1"/>
<rect x="39.90" y="613.10" width="15.10" height="11.40" fill="#faf3f3"/>
<rect x="54.70" y="613.10" width="15.10" height="11.40" fill="#fbf6f6"/>
<rect x="69.50" y="613.10" width="15.10" height="11.40" fill="#ffffff"/>
<rect x="84.30" y="613.10" width="15.10" height="11.40" fill="#ffffff"/>
<rect x="99.10" y="613.10" width="15.10" height="11.40" fill="#fbf8f8"/>
<rect x="113.90" y="613.10" width="15.10" height="11.40" fill="#f1e1e1"/>
<rect x="39.90" y="624.20" width="15.10" height="11.40" fill="#e6c8c8"/>
<rect x="54.70" y="624.20" width="15.10" height="11.40" fill="#f0dede"/>
<rect x="69.50" y="624.20" width="15.10" height="11.40" fill="#ffffff"/>
<rect x="84.30" y="624.20" width="15.10" height="11.40" fill="#ffffff"/>
<rect x="99.10" y="624.20" width="15.10" height="11.40" fill="#fbf8f8"/>
<rect x="113.90" y="624.20" width="15.10" height="11.40" fill="#ead0d0"/>
<rect x="39.90" y="546.50" width="88.80" height="88.80" fill="none" stroke="#222" stroke-width="1"/>
<line x1="36.30" y1="552.05" x2="39.90" y2="552.05" stroke="#222" stroke-width="0.9"/>
<text x="0" y="0" font-size="7.4" text-anchor="end" font-weight="normal" fill="#222" transform="translate(34.70 554.85) scale(1.0 1.12)">Unstim</text>
<line x1="36.30" y1="563.15" x2="39.90" y2="563.15" stroke="#222" stroke-width="0.9"/>
<text x="0" y="0" font-size="7.4" text-anchor="end" font-weight="normal" fill="#222" transform="translate(34.70 565.95) scale(1.0 1.12)">Control</text>
<line x1="36.30" y1="574.25" x2="39.90" y2="574.25" stroke="#222" stroke-width="0.9"/>
<text x="0" y="0" font-size="7.4" text-anchor="end" font-weight="normal" fill="#222" transform="translate(34.70 577.05) scale(1.0 1.12)">G12V</text>
<line x1="36.30" y1="585.35" x2="39.90" y2="585.35" stroke="#222" stroke-width="0.9"/>
<text x="0" y="0" font-size="7.4" text-anchor="end" font-weight="normal" fill="#222" transform="translate(34.70 588.15) scale(1.0 1.12)">G12A</text>
<line x1="36.30" y1="596.45" x2="39.90" y2="596.45" stroke="#222" stroke-width="0.9"/>
<text x="0" y="0" font-size="7.4" text-anchor="end" font-weight="normal" fill="#222" transform="translate(34.70 599.25) scale(1.0 1.12)">G12R</text>
<line x1="36.30" y1="607.55" x2="39.90" y2="607.55" stroke="#222" stroke-width="0.9"/>
<text x="0" y="0" font-size="7.4" text-anchor="end" font-weight="normal" fill="#222" transform="translate(34.70 610.35) scale(1.0 1.12)">G12C</text>
<line x1="36.30" y1="618.65" x2="39.90" y2="618.65" stroke="#222" stroke-width="0.9"/>
<text x="0" y="0" font-size="7.4" text-anchor="end" font-weight="normal" fill="#222" transform="translate(34.70 621.45) scale(1.0 1.12)">G12D</text>
<line x1="36.30" y1="629.75" x2="39.90" y2="629.75" stroke="#222" stroke-width="0.9"/>
<text x="0" y="0" font-size="7.4" text-anchor="end" font-weight="normal" fill="#222" transform="translate(34.70 632.55) scale(1.0 1.12)">G13D</text>
<line x1="47.30" y1="635.30" x2="47.30" y2="639.30" stroke="#222" stroke-width="0.9"/>
<text x="0" y="0" font-size="7.4" text-anchor="end" font-weight="normal" fill="#222" transform="translate(50.00 640.30) rotate(-90) scale(0.96 1.0)">IFNγ</text>
<line x1="62.10" y1="635.30" x2="62.10" y2="639.30" stroke="#222" stroke-width="0.9"/>
<text x="0" y="0" font-size="7.4" text-anchor="end" font-weight="normal" fill="#222" transform="translate(64.80 640.30) rotate(-90) scale(0.96 1.0)">IL-2</text>
<line x1="76.90" y1="635.30" x2="76.90" y2="639.30" stroke="#222" stroke-width="0.9"/>
<text x="0" y="0" font-size="7.4" text-anchor="end" font-weight="normal" fill="#222" transform="translate(79.60 640.30) rotate(-90) scale(0.96 1.0)">IL-4</text>
<line x1="91.70" y1="635.30" x2="91.70" y2="639.30" stroke="#222" stroke-width="0.9"/>
<text x="0" y="0" font-size="7.4" text-anchor="end" font-weight="normal" fill="#222" transform="translate(94.40 640.30) rotate(-90) scale(0.96 1.0)">IL-5</text>
<line x1="106.50" y1="635.30" x2="106.50" y2="639.30" stroke="#222" stroke-width="0.9"/>
<text x="0" y="0" font-size="7.4" text-anchor="end" font-weight="normal" fill="#222" transform="translate(109.20 640.30) rotate(-90) scale(0.96 1.0)">IL-17A</text>
<line x1="121.30" y1="635.30" x2="121.30" y2="639.30" stroke="#222" stroke-width="0.9"/>
<text x="0" y="0" font-size="7.4" text-anchor="end" font-weight="normal" fill="#222" transform="translate(124.00 640.30) rotate(-90) scale(0.96 1.0)">IL-10</text>
<text x="86.70" y="541.90" font-size="9.5" text-anchor="middle" font-weight="normal" fill="#222">J1994_2</text>
<linearGradient id="g39546" x1="0" y1="1" x2="0" y2="0"><stop offset="0" stop-color="#ffffff"/><stop offset="0.5" stop-color="#c98a8a"/><stop offset="1" stop-color="#7a0000"/></linearGradient>
<rect x="139.30" y="546.50" width="11.30" height="88.80" fill="url(#g39546)" stroke="#222" stroke-width="1"/>
<line x1="148.40" y1="635.30" x2="150.60" y2="635.30" stroke="#222" stroke-width="0.9"/>
<line x1="139.30" y1="635.30" x2="141.50" y2="635.30" stroke="#222" stroke-width="0.9"/>
<text x="0" y="0" font-size="7.8" text-anchor="start" font-weight="normal" fill="#222" transform="translate(155.20 638.30) scale(1.0 1.1)">0</text>
<line x1="148.40" y1="609.18" x2="150.60" y2="609.18" stroke="#222" stroke-width="0.9"/>
<line x1="139.30" y1="609.18" x2="141.50" y2="609.18" stroke="#222" stroke-width="0.9"/>
<text x="0" y="0" font-size="7.8" text-anchor="start" font-weight="normal" fill="#222" transform="translate(155.20 612.18) scale(1.0 1.1)">50</text>
<line x1="148.40" y1="583.06" x2="150.60" y2="583.06" stroke="#222" stroke-width="0.9"/>
<line x1="139.30" y1="583.06" x2="141.50" y2="583.06" stroke="#222" stroke-width="0.9"/>
<text x="0" y="0" font-size="7.8" text-anchor="start" font-weight="normal" fill="#222" transform="translate(155.20 586.06) scale(1.0 1.1)">100</text>
<line x1="148.40" y1="556.95" x2="150.60" y2="556.95" stroke="#222" stroke-width="0.9"/>
<line x1="139.30" y1="556.95" x2="141.50" y2="556.95" stroke="#222" stroke-width="0.9"/>
<text x="0" y="0" font-size="7.8" text-anchor="start" font-weight="normal" fill="#222" transform="translate(155.20 559.95) scale(1.0 1.1)">150</text>
<text x="0" y="0" font-size="7.6" text-anchor="middle" font-weight="normal" fill="#222" transform="translate(164.20 543.00) scale(1.0 1.1)">pg/mL</text>
<rect x="215.50" y="546.80" width="15.13" height="11.36" fill="#ffffff"/>
<rect x="230.33" y="546.80" width="15.13" height="11.36" fill="#fcf8f8"/>
<rect x="245.17" y="546.80" width="15.13" height="11.36" fill="#ffffff"/>
<rect x="260.00" y="546.80" width="15.13" height="11.36" fill="#ffffff"/>
<rect x="274.83" y="546.80" width="15.13" height="11.36" fill="#fbf8f8"/>
<rect x="289.67" y="546.80" width="15.13" height="11.36" fill="#ecd5d5"/>
<rect x="215.50" y="557.86" width="15.13" height="11.36" fill="#ffffff"/>
<rect x="230.33" y="557.86" width="15.13" height="11.36" fill="#fcf9f9"/>
<rect x="245.17" y="557.86" width="15.13" height="11.36" fill="#ffffff"/>
<rect x="260.00" y="557.86" width="15.13" height="11.36" fill="#ffffff"/>
<rect x="274.83" y="557.86" width="15.13" height="11.36" fill="#fbf8f8"/>
<rect x="289.67" y="557.86" width="15.13" height="11.36" fill="#efdada"/>
<rect x="215.50" y="568.92" width="15.13" height="11.36" fill="#7f0000"/>
<rect x="230.33" y="568.92" width="15.13" height="11.36" fill="#b86a6a"/>
<rect x="245.17" y="568.92" width="15.13" height="11.36" fill="#fcf9f9"/>
<rect x="260.00" y="568.92" width="15.13" height="11.36" fill="#ecd6d6"/>
<rect x="274.83" y="568.92" width="15.13" height="11.36" fill="#fbf8f8"/>
<rect x="289.67" y="568.92" width="15.13" height="11.36" fill="#c48282"/>
<rect x="215.50" y="579.99" width="15.13" height="11.36" fill="#ebd2d2"/>
<rect x="230.33" y="579.99" width="15.13" height="11.36" fill="#e9cdcd"/>
<rect x="245.17" y="579.99" width="15.13" height="11.36" fill="#ffffff"/>
<rect x="260.00" y="579.99" width="15.13" height="11.36" fill="#f3e5e5"/>
<rect x="274.83" y="579.99" width="15.13" height="11.36" fill="#fbf8f8"/>
<rect x="289.67" y="579.99" width="15.13" height="11.36" fill="#c68686"/>
<rect x="215.50" y="591.05" width="15.13" height="11.36" fill="#f3e4e4"/>
<rect x="230.33" y="591.05" width="15.13" height="11.36" fill="#e5c6c6"/>
<rect x="245.17" y="591.05" width="15.13" height="11.36" fill="#ffffff"/>
<rect x="260.00" y="591.05" width="15.13" height="11.36" fill="#ffffff"/>
<rect x="274.83" y="591.05" width="15.13" height="11.36" fill="#fbf8f8"/>
<rect x="289.67" y="591.05" width="15.13" height="11.36" fill="#ebd3d3"/>
<rect x="215.50" y="602.11" width="15.13" height="11.36" fill="#f7eeee"/>
<rect x="230.33" y="602.11" width="15.13" height="11.36" fill="#f4e8e8"/>
<rect x="245.17" y="602.11" width="15.13" height="11.36" fill="#ffffff"/>
<rect x="260.00" y="602.11" width="15.13" height="11.36" fill="#ffffff"/>
<rect x="274.83" y="602.11" width="15.13" height="11.36" fill="#fbf8f8"/>
<rect x="289.67" y="602.11" width="15.13" height="11.36" fill="#dfb9b9"/>
<rect x="215.50" y="613.17" width="15.13" height="11.36" fill="#f9f3f3"/>
<rect x="230.33" y="613.17" width="15.13" height="11.36" fill="#f7efef"/>
<rect x="245.17" y="613.17" width="15.13" height="11.36" fill="#ffffff"/>
<rect x="260.00" y="613.17" width="15.13" height="11.36" fill="#ffffff"/>
<rect x="274.83" y="613.17" width="15.13" height="11.36" fill="#fbf8f8"/>
<rect x="289.67" y="613.17" width="15.13" height="11.36" fill="#deb7b7"/>
<rect x="215.50" y="624.24" width="15.13" height="11.36" fill="#f7efef"/>
<rect x="230.33" y="624.24" width="15.13" height="11.36" fill="#f5e9e9"/>
<rect x="245.17" y="624.24" width="15.13" height="11.36" fill="#ffffff"/>
<rect x="260.00" y="624.24" width="15.13" height="11.36" fill="#ffffff"/>
<rect x="274.83" y="624.24" width="15.13" height="11.36" fill="#fbf8f8"/>
<rect x="289.67" y="624.24" width="15.13" height="11.36" fill="#cc9191"/>
<rect x="215.50" y="546.80" width="89.00" height="88.50" fill="none" stroke="#222" stroke-width="1"/>
<line x1="211.90" y1="552.33" x2="215.50" y2="552.33" stroke="#222" stroke-width="0.9"/>
<text x="0" y="0" font-size="7.4" text-anchor="end" font-weight="normal" fill="#222" transform="translate(210.30 555.13) scale(1.0 1.12)">Unstim</text>
<line x1="211.90" y1="563.39" x2="215.50" y2="563.39" stroke="#222" stroke-width="0.9"/>
<text x="0" y="0" font-size="7.4" text-anchor="end" font-weight="normal" fill="#222" transform="translate(210.30 566.19) scale(1.0 1.12)">Control</text>
<line x1="211.90" y1="574.46" x2="215.50" y2="574.46" stroke="#222" stroke-width="0.9"/>
<text x="0" y="0" font-size="7.4" text-anchor="end" font-weight="normal" fill="#222" transform="translate(210.30 577.26) scale(1.0 1.12)">G12V</text>
<line x1="211.90" y1="585.52" x2="215.50" y2="585.52" stroke="#222" stroke-width="0.9"/>
<text x="0" y="0" font-size="7.4" text-anchor="end" font-weight="normal" fill="#222" transform="translate(210.30 588.32) scale(1.0 1.12)">G12A</text>
<line x1="211.90" y1="596.58" x2="215.50" y2="596.58" stroke="#222" stroke-width="0.9"/>
<text x="0" y="0" font-size="7.4" text-anchor="end" font-weight="normal" fill="#222" transform="translate(210.30 599.38) scale(1.0 1.12)">G12R</text>
<line x1="211.90" y1="607.64" x2="215.50" y2="607.64" stroke="#222" stroke-width="0.9"/>
<text x="0" y="0" font-size="7.4" text-anchor="end" font-weight="normal" fill="#222" transform="translate(210.30 610.44) scale(1.0 1.12)">G12C</text>
<line x1="211.90" y1="618.71" x2="215.50" y2="618.71" stroke="#222" stroke-width="0.9"/>
<text x="0" y="0" font-size="7.4" text-anchor="end" font-weight="normal" fill="#222" transform="translate(210.30 621.51) scale(1.0 1.12)">G12D</text>
<line x1="211.90" y1="629.77" x2="215.50" y2="629.77" stroke="#222" stroke-width="0.9"/>
<text x="0" y="0" font-size="7.4" text-anchor="end" font-weight="normal" fill="#222" transform="translate(210.30 632.57) scale(1.0 1.12)">G13D</text>
<line x1="222.92" y1="635.30" x2="222.92" y2="639.30" stroke="#222" stroke-width="0.9"/>
<text x="0" y="0" font-size="7.4" text-anchor="end" font-weight="normal" fill="#222" transform="translate(225.62 640.30) rotate(-90) scale(0.96 1.0)">IFNγ</text>
<line x1="237.75" y1="635.30" x2="237.75" y2="639.30" stroke="#222" stroke-width="0.9"/>
<text x="0" y="0" font-size="7.4" text-anchor="end" font-weight="normal" fill="#222" transform="translate(240.45 640.30) rotate(-90) scale(0.96 1.0)">IL-2</text>
<line x1="252.58" y1="635.30" x2="252.58" y2="639.30" stroke="#222" stroke-width="0.9"/>
<text x="0" y="0" font-size="7.4" text-anchor="end" font-weight="normal" fill="#222" transform="translate(255.28 640.30) rotate(-90) scale(0.96 1.0)">IL-4</text>
<line x1="267.42" y1="635.30" x2="267.42" y2="639.30" stroke="#222" stroke-width="0.9"/>
<text x="0" y="0" font-size="7.4" text-anchor="end" font-weight="normal" fill="#222" transform="translate(270.12 640.30) rotate(-90) scale(0.96 1.0)">IL-5</text>
<line x1="282.25" y1="635.30" x2="282.25" y2="639.30" stroke="#222" stroke-width="0.9"/>
<text x="0" y="0" font-size="7.4" text-anchor="end" font-weight="normal" fill="#222" transform="translate(284.95 640.30) rotate(-90) scale(0.96 1.0)">IL-17A</text>
<line x1="297.08" y1="635.30" x2="297.08" y2="639.30" stroke="#222" stroke-width="0.9"/>
<text x="0" y="0" font-size="7.4" text-anchor="end" font-weight="normal" fill="#222" transform="translate(299.78 640.30) rotate(-90) scale(0.96 1.0)">IL-10</text>
<text x="260.60" y="544.00" font-size="9.5" text-anchor="middle" font-weight="normal" fill="#222">J1994_14</text>
<linearGradient id="g215546" x1="0" y1="1" x2="0" y2="0"><stop offset="0" stop-color="#ffffff"/><stop offset="0.5" stop-color="#c98a8a"/><stop offset="1" stop-color="#7a0000"/></linearGradient>
<rect x="314.50" y="546.80" width="11.00" height="88.50" fill="url(#g215546)" stroke="#222" stroke-width="1"/>
<line x1="323.30" y1="635.30" x2="325.50" y2="635.30" stroke="#222" stroke-width="0.9"/>
<line x1="314.50" y1="635.30" x2="316.70" y2="635.30" stroke="#222" stroke-width="0.9"/>
<text x="0" y="0" font-size="7.8" text-anchor="start" font-weight="normal" fill="#222" transform="translate(330.10 638.30) scale(1.0 1.1)">0</text>
<line x1="323.30" y1="607.99" x2="325.50" y2="607.99" stroke="#222" stroke-width="0.9"/>
<line x1="314.50" y1="607.99" x2="316.70" y2="607.99" stroke="#222" stroke-width="0.9"/>
<text x="0" y="0" font-size="7.8" text-anchor="start" font-weight="normal" fill="#222" transform="translate(330.10 610.99) scale(1.0 1.1)">50</text>
<line x1="323.30" y1="580.67" x2="325.50" y2="580.67" stroke="#222" stroke-width="0.9"/>
<line x1="314.50" y1="580.67" x2="316.70" y2="580.67" stroke="#222" stroke-width="0.9"/>
<text x="0" y="0" font-size="7.8" text-anchor="start" font-weight="normal" fill="#222" transform="translate(330.10 583.67) scale(1.0 1.1)">100</text>
<line x1="323.30" y1="553.36" x2="325.50" y2="553.36" stroke="#222" stroke-width="0.9"/>
<line x1="314.50" y1="553.36" x2="316.70" y2="553.36" stroke="#222" stroke-width="0.9"/>
<text x="0" y="0" font-size="7.8" text-anchor="start" font-weight="normal" fill="#222" transform="translate(330.10 556.36) scale(1.0 1.1)">150</text>
<text x="0" y="0" font-size="7.6" text-anchor="middle" font-weight="normal" fill="#222" transform="translate(339.50 543.50) scale(1.0 1.1)">pg/mL</text>
</svg>
</body></html>
